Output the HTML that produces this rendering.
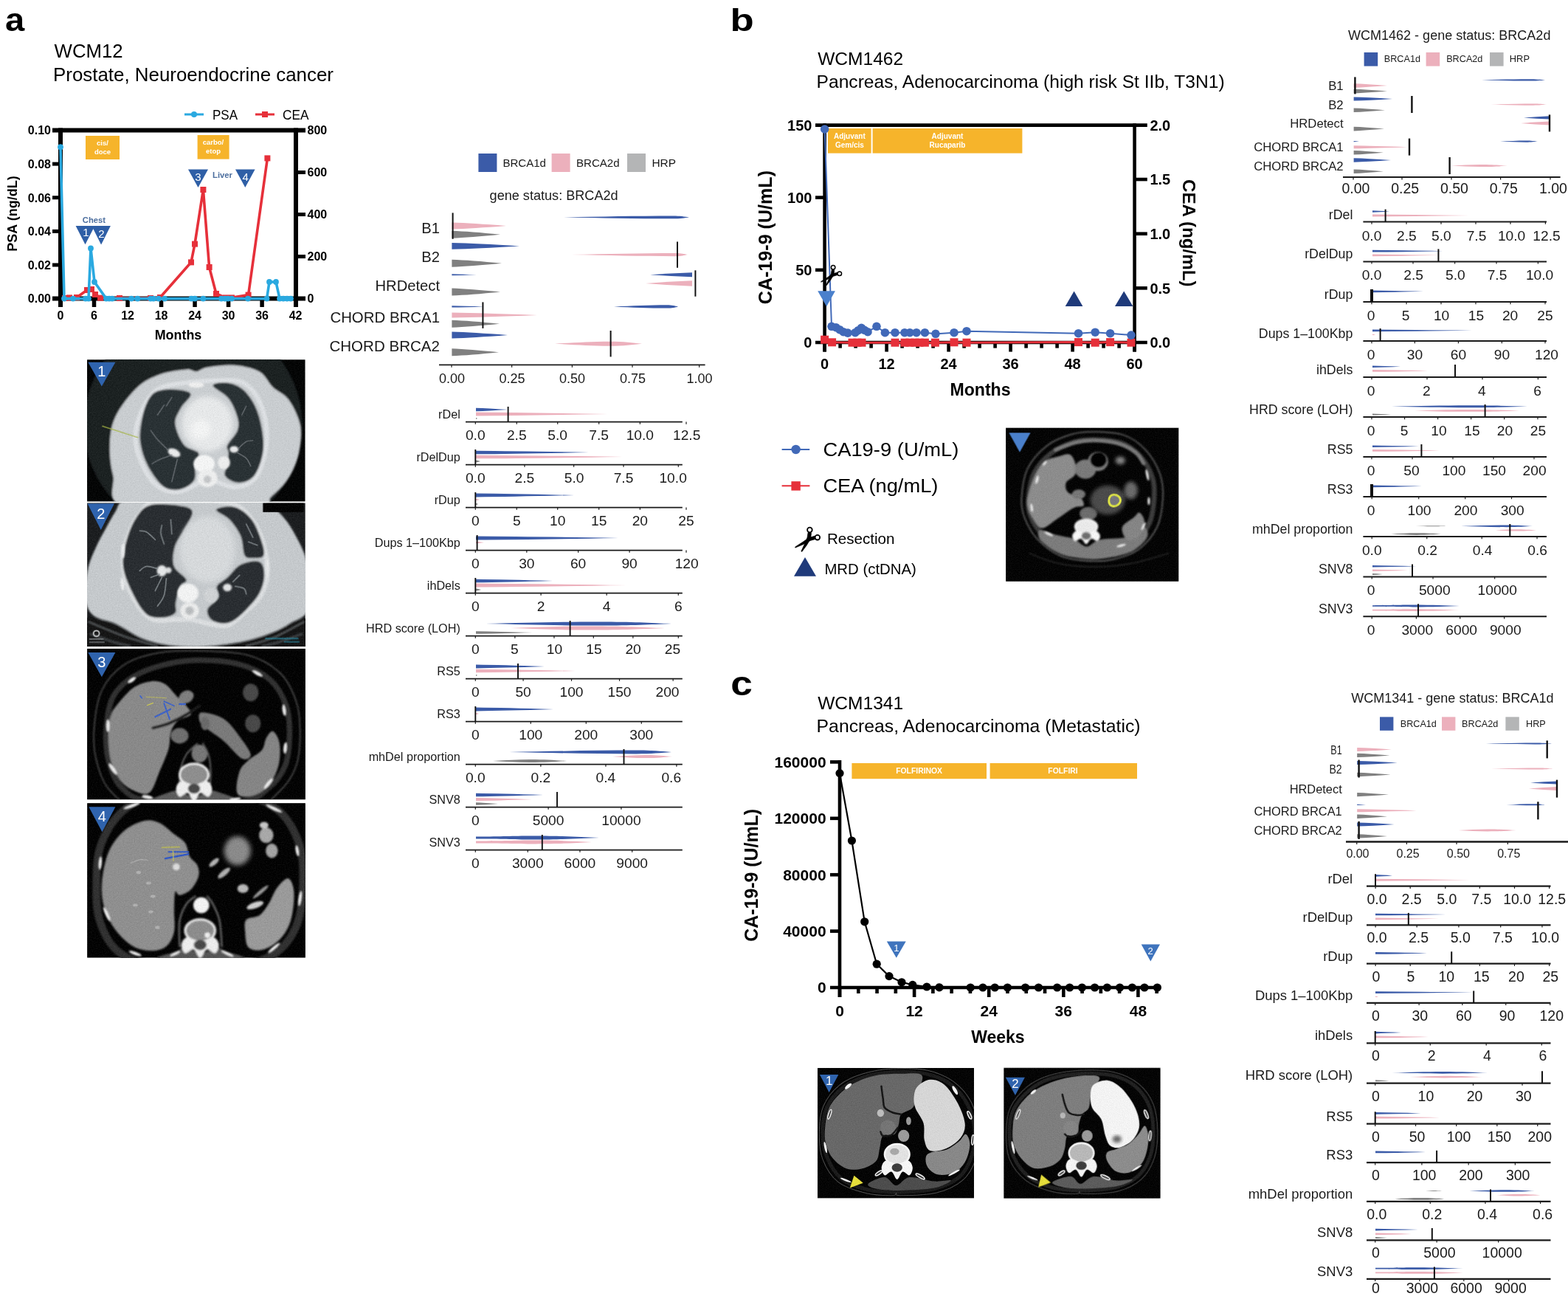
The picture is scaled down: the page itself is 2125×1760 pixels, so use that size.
<!DOCTYPE html>
<html lang="en">
<head>
<meta charset="utf-8">
<title>Figure: HRD classifier clinical cases (WCM12, WCM1462, WCM1341)</title>
<style>
html,body{margin:0;padding:0;background:#fff;}
body{width:2125px;height:1760px;overflow:hidden;}
svg{display:block;}
svg text{font-family:'Liberation Sans',Arial,Helvetica,sans-serif;}
</style>
</head>
<body>
<svg width="2125" height="1760" viewBox="0 0 2125 1760">
<defs>
<clipPath id="cc1"><rect x="67" y="62" width="1963" height="1275"/></clipPath>
<filter id="cb1" x="-10%" y="-10%" width="120%" height="120%"><feGaussianBlur stdDeviation="7"/></filter>
<filter id="cs1" x="-10%" y="-10%" width="120%" height="120%"><feGaussianBlur stdDeviation="3.1"/></filter>
<filter id="cx1" x="-20%" y="-20%" width="140%" height="140%"><feGaussianBlur stdDeviation="21"/></filter>
<filter id="cn1" filterUnits="userSpaceOnUse" x="67" y="62" width="1963" height="1275" color-interpolation-filters="sRGB"><feTurbulence type="fractalNoise" baseFrequency="0.09" numOctaves="2" seed="7" result="n"/><feColorMatrix in="n" type="matrix" values="0.33 0.33 0.33 0 0  0.33 0.33 0.33 0 0  0.33 0.33 0.33 0 0  0 0 0 0 1" result="g"/><feComposite in="SourceGraphic" in2="g" operator="arithmetic" k1="0" k2="1" k3="0.2" k4="-0.1"/></filter>
<clipPath id="cc2"><rect x="67" y="50" width="1963" height="1287"/></clipPath>
<filter id="cb2" x="-10%" y="-10%" width="120%" height="120%"><feGaussianBlur stdDeviation="7"/></filter>
<filter id="cs2" x="-10%" y="-10%" width="120%" height="120%"><feGaussianBlur stdDeviation="3.1"/></filter>
<filter id="cx2" x="-20%" y="-20%" width="140%" height="140%"><feGaussianBlur stdDeviation="21"/></filter>
<filter id="cn2" filterUnits="userSpaceOnUse" x="67" y="50" width="1963" height="1287" color-interpolation-filters="sRGB"><feTurbulence type="fractalNoise" baseFrequency="0.09" numOctaves="2" seed="14" result="n"/><feColorMatrix in="n" type="matrix" values="0.33 0.33 0.33 0 0  0.33 0.33 0.33 0 0  0.33 0.33 0.33 0 0  0 0 0 0 1" result="g"/><feComposite in="SourceGraphic" in2="g" operator="arithmetic" k1="0" k2="1" k3="0.2" k4="-0.1"/></filter>
<clipPath id="cc3"><rect x="67" y="45" width="1966" height="1360"/></clipPath>
<filter id="cb3" x="-10%" y="-10%" width="120%" height="120%"><feGaussianBlur stdDeviation="7"/></filter>
<filter id="cs3" x="-10%" y="-10%" width="120%" height="120%"><feGaussianBlur stdDeviation="3.1"/></filter>
<filter id="cx3" x="-20%" y="-20%" width="140%" height="140%"><feGaussianBlur stdDeviation="21"/></filter>
<filter id="cn3" filterUnits="userSpaceOnUse" x="67" y="45" width="1966" height="1360" color-interpolation-filters="sRGB"><feTurbulence type="fractalNoise" baseFrequency="0.09" numOctaves="2" seed="21" result="n"/><feColorMatrix in="n" type="matrix" values="0.33 0.33 0.33 0 0  0.33 0.33 0.33 0 0  0.33 0.33 0.33 0 0  0 0 0 0 1" result="g"/><feComposite in="SourceGraphic" in2="g" operator="arithmetic" k1="0" k2="1" k3="0.2" k4="-0.1"/></filter>
<clipPath id="cc4"><rect x="67" y="40" width="1966" height="1392"/></clipPath>
<filter id="cb4" x="-10%" y="-10%" width="120%" height="120%"><feGaussianBlur stdDeviation="7"/></filter>
<filter id="cs4" x="-10%" y="-10%" width="120%" height="120%"><feGaussianBlur stdDeviation="3.1"/></filter>
<filter id="cx4" x="-20%" y="-20%" width="140%" height="140%"><feGaussianBlur stdDeviation="21"/></filter>
<filter id="cn4" filterUnits="userSpaceOnUse" x="67" y="40" width="1966" height="1392" color-interpolation-filters="sRGB"><feTurbulence type="fractalNoise" baseFrequency="0.09" numOctaves="2" seed="28" result="n"/><feColorMatrix in="n" type="matrix" values="0.33 0.33 0.33 0 0  0.33 0.33 0.33 0 0  0.33 0.33 0.33 0 0  0 0 0 0 1" result="g"/><feComposite in="SourceGraphic" in2="g" operator="arithmetic" k1="0" k2="1" k3="0.2" k4="-0.1"/></filter>
<clipPath id="cc5"><rect x="78" y="75" width="1784" height="1585"/></clipPath>
<filter id="cb5" x="-10%" y="-10%" width="120%" height="120%"><feGaussianBlur stdDeviation="7"/></filter>
<filter id="cs5" x="-10%" y="-10%" width="120%" height="120%"><feGaussianBlur stdDeviation="3.1"/></filter>
<filter id="cx5" x="-20%" y="-20%" width="140%" height="140%"><feGaussianBlur stdDeviation="21"/></filter>
<filter id="cn5" filterUnits="userSpaceOnUse" x="78" y="75" width="1784" height="1585" color-interpolation-filters="sRGB"><feTurbulence type="fractalNoise" baseFrequency="0.09" numOctaves="2" seed="35" result="n"/><feColorMatrix in="n" type="matrix" values="0.33 0.33 0.33 0 0  0.33 0.33 0.33 0 0  0.33 0.33 0.33 0 0  0 0 0 0 1" result="g"/><feComposite in="SourceGraphic" in2="g" operator="arithmetic" k1="0" k2="1" k3="0.2" k4="-0.1"/></filter>
<clipPath id="cc6"><rect x="88" y="80" width="1892" height="1575"/></clipPath>
<filter id="cb6" x="-10%" y="-10%" width="120%" height="120%"><feGaussianBlur stdDeviation="7"/></filter>
<filter id="cs6" x="-10%" y="-10%" width="120%" height="120%"><feGaussianBlur stdDeviation="3.1"/></filter>
<filter id="cx6" x="-20%" y="-20%" width="140%" height="140%"><feGaussianBlur stdDeviation="21"/></filter>
<filter id="cn6" filterUnits="userSpaceOnUse" x="88" y="80" width="1892" height="1575" color-interpolation-filters="sRGB"><feTurbulence type="fractalNoise" baseFrequency="0.09" numOctaves="2" seed="42" result="n"/><feColorMatrix in="n" type="matrix" values="0.33 0.33 0.33 0 0  0.33 0.33 0.33 0 0  0.33 0.33 0.33 0 0  0 0 0 0 1" result="g"/><feComposite in="SourceGraphic" in2="g" operator="arithmetic" k1="0" k2="1" k3="0.2" k4="-0.1"/></filter>
<clipPath id="cc7"><rect x="92" y="80" width="1891" height="1575"/></clipPath>
<filter id="cb7" x="-10%" y="-10%" width="120%" height="120%"><feGaussianBlur stdDeviation="7"/></filter>
<filter id="cs7" x="-10%" y="-10%" width="120%" height="120%"><feGaussianBlur stdDeviation="3.1"/></filter>
<filter id="cx7" x="-20%" y="-20%" width="140%" height="140%"><feGaussianBlur stdDeviation="21"/></filter>
<filter id="cn7" filterUnits="userSpaceOnUse" x="92" y="80" width="1891" height="1575" color-interpolation-filters="sRGB"><feTurbulence type="fractalNoise" baseFrequency="0.09" numOctaves="2" seed="49" result="n"/><feColorMatrix in="n" type="matrix" values="0.33 0.33 0.33 0 0  0.33 0.33 0.33 0 0  0.33 0.33 0.33 0 0  0 0 0 0 1" result="g"/><feComposite in="SourceGraphic" in2="g" operator="arithmetic" k1="0" k2="1" k3="0.2" k4="-0.1"/></filter>
</defs>
<rect x="0" y="0" width="2125" height="1760" fill="#ffffff"/>
<text x="7.00" y="41.60" font-size="45" font-weight="bold" textLength="26.20" lengthAdjust="spacingAndGlyphs">a</text>
<text x="73.60" y="78.40" font-size="25" textLength="93.00" lengthAdjust="spacingAndGlyphs">WCM12</text>
<text x="72.00" y="109.60" font-size="25.6" textLength="380.00" lengthAdjust="spacingAndGlyphs">Prostate, Neuroendocrine cancer</text>
<line x1="250.00" y1="155.00" x2="276.00" y2="155.00" stroke="#2aa9e0" stroke-width="3" />
<circle cx="263.00" cy="155.00" r="4" fill="#2aa9e0" />
<text x="288.00" y="161.60" font-size="17.5" textLength="34.00" lengthAdjust="spacingAndGlyphs">PSA</text>
<line x1="346.00" y1="155.00" x2="372.00" y2="155.00" stroke="#e6303a" stroke-width="3" />
<rect x="355.00" y="151.00" width="8.00" height="8.00" fill="#e6303a" />
<text x="383.00" y="161.60" font-size="17.5" textLength="35.50" lengthAdjust="spacingAndGlyphs">CEA</text>
<rect x="116.00" y="184.00" width="46.00" height="32.00" fill="#f6b42b" />
<text x="139.00" y="196.50" font-size="9.5" text-anchor="middle" font-weight="bold" fill="#fff">cis/</text>
<text x="139.00" y="208.50" font-size="9.5" text-anchor="middle" font-weight="bold" fill="#fff">doce</text>
<rect x="267.60" y="183.00" width="43.00" height="32.60" fill="#f6b42b" />
<text x="289.00" y="195.80" font-size="9.5" text-anchor="middle" font-weight="bold" fill="#fff">carbo/</text>
<text x="289.00" y="207.60" font-size="9.5" text-anchor="middle" font-weight="bold" fill="#fff">etop</text>
<line x1="82.00" y1="173.50" x2="82.00" y2="416.00" stroke="#000" stroke-width="6" />
<line x1="71.00" y1="176.50" x2="414.00" y2="176.50" stroke="#000" stroke-width="6" />
<line x1="401.00" y1="173.50" x2="401.00" y2="416.00" stroke="#000" stroke-width="6" />
<line x1="71.00" y1="404.60" x2="414.00" y2="404.60" stroke="#000" stroke-width="6" />
<line x1="71.00" y1="358.98" x2="82.00" y2="358.98" stroke="#000" stroke-width="5" />
<line x1="71.00" y1="313.36" x2="82.00" y2="313.36" stroke="#000" stroke-width="5" />
<line x1="71.00" y1="267.74" x2="82.00" y2="267.74" stroke="#000" stroke-width="5" />
<line x1="71.00" y1="222.12" x2="82.00" y2="222.12" stroke="#000" stroke-width="5" />
<line x1="401.00" y1="347.58" x2="414.00" y2="347.58" stroke="#000" stroke-width="5" />
<line x1="401.00" y1="290.55" x2="414.00" y2="290.55" stroke="#000" stroke-width="5" />
<line x1="401.00" y1="233.53" x2="414.00" y2="233.53" stroke="#000" stroke-width="5" />
<line x1="127.51" y1="404.60" x2="127.51" y2="416.00" stroke="#000" stroke-width="5.5" />
<line x1="173.03" y1="404.60" x2="173.03" y2="416.00" stroke="#000" stroke-width="5.5" />
<line x1="218.54" y1="404.60" x2="218.54" y2="416.00" stroke="#000" stroke-width="5.5" />
<line x1="264.06" y1="404.60" x2="264.06" y2="416.00" stroke="#000" stroke-width="5.5" />
<line x1="309.57" y1="404.60" x2="309.57" y2="416.00" stroke="#000" stroke-width="5.5" />
<line x1="355.09" y1="404.60" x2="355.09" y2="416.00" stroke="#000" stroke-width="5.5" />
<text x="69.00" y="410.40" font-size="16" text-anchor="end" font-weight="bold">0.00</text>
<text x="69.00" y="364.78" font-size="16" text-anchor="end" font-weight="bold">0.02</text>
<text x="69.00" y="319.16" font-size="16" text-anchor="end" font-weight="bold">0.04</text>
<text x="69.00" y="273.54" font-size="16" text-anchor="end" font-weight="bold">0.06</text>
<text x="69.00" y="227.92" font-size="16" text-anchor="end" font-weight="bold">0.08</text>
<text x="69.00" y="182.30" font-size="16" text-anchor="end" font-weight="bold">0.10</text>
<text x="416.50" y="410.40" font-size="16" font-weight="bold">0</text>
<text x="416.50" y="353.38" font-size="16" font-weight="bold">200</text>
<text x="416.50" y="296.35" font-size="16" font-weight="bold">400</text>
<text x="416.50" y="239.33" font-size="16" font-weight="bold">600</text>
<text x="416.50" y="182.30" font-size="16" font-weight="bold">800</text>
<text x="82.00" y="433.20" font-size="16" text-anchor="middle" font-weight="bold">0</text>
<text x="127.51" y="433.20" font-size="16" text-anchor="middle" font-weight="bold">6</text>
<text x="173.03" y="433.20" font-size="16" text-anchor="middle" font-weight="bold">12</text>
<text x="218.54" y="433.20" font-size="16" text-anchor="middle" font-weight="bold">18</text>
<text x="264.06" y="433.20" font-size="16" text-anchor="middle" font-weight="bold">24</text>
<text x="309.57" y="433.20" font-size="16" text-anchor="middle" font-weight="bold">30</text>
<text x="355.09" y="433.20" font-size="16" text-anchor="middle" font-weight="bold">36</text>
<text x="400.60" y="433.20" font-size="16" text-anchor="middle" font-weight="bold">42</text>
<text x="241.50" y="460.40" font-size="17.9" text-anchor="middle" font-weight="bold">Months</text>
<text x="23.40" y="289.50" font-size="18" text-anchor="middle" font-weight="bold" transform="rotate(-90 23.40 289.50)">PSA (ng/dL)</text>
<path d="M102.6,306.0 L128.5,306.0 L115.5,331.3 Z" fill="#2f5fa6"/>
<path d="M124.3,306.0 L149.9,306.0 L137.1,331.5 Z" fill="#2f5fa6"/>
<path d="M255.0,229.4 L282.0,229.4 L268.5,254.0 Z" fill="#2f5fa6"/>
<path d="M319.0,229.4 L345.6,229.4 L332.3,254.0 Z" fill="#2f5fa6"/>
<text x="116.30" y="319.90" font-size="15" text-anchor="middle" fill="#fff">1</text>
<text x="137.30" y="322.10" font-size="15" text-anchor="middle" fill="#fff">2</text>
<text x="268.40" y="245.00" font-size="15" text-anchor="middle" fill="#fff">3</text>
<text x="332.60" y="245.00" font-size="15" text-anchor="middle" fill="#fff">4</text>
<text x="111.80" y="302.10" font-size="11.6" font-weight="bold" fill="#4d6f9f" textLength="31.20" lengthAdjust="spacingAndGlyphs">Chest</text>
<text x="288.00" y="241.00" font-size="11.2" font-weight="bold" fill="#4d6f9f" textLength="27.00" lengthAdjust="spacingAndGlyphs">Liver</text>
<polyline points="88.0,404.0 94.0,403.4 104.0,403.0 118.0,393.0 124.0,392.0 129.0,399.0 136.0,403.6 162.0,404.0 204.0,404.0 217.0,403.0 259.0,355.4 264.0,330.6 275.4,257.0 283.6,362.0 293.0,398.0 306.0,403.4 314.0,403.4 336.6,399.6 362.4,214.4" fill="none" stroke="#e6303a" stroke-width="3.6" stroke-linejoin="round" />
<rect x="84.00" y="400.00" width="8.00" height="8.00" fill="#e6303a" />
<rect x="90.00" y="399.40" width="8.00" height="8.00" fill="#e6303a" />
<rect x="100.00" y="399.00" width="8.00" height="8.00" fill="#e6303a" />
<rect x="114.00" y="389.00" width="8.00" height="8.00" fill="#e6303a" />
<rect x="120.00" y="388.00" width="8.00" height="8.00" fill="#e6303a" />
<rect x="125.00" y="395.00" width="8.00" height="8.00" fill="#e6303a" />
<rect x="132.00" y="399.60" width="8.00" height="8.00" fill="#e6303a" />
<rect x="158.00" y="400.00" width="8.00" height="8.00" fill="#e6303a" />
<rect x="200.00" y="400.00" width="8.00" height="8.00" fill="#e6303a" />
<rect x="213.00" y="399.00" width="8.00" height="8.00" fill="#e6303a" />
<rect x="255.00" y="351.40" width="8.00" height="8.00" fill="#e6303a" />
<rect x="260.00" y="326.60" width="8.00" height="8.00" fill="#e6303a" />
<rect x="271.40" y="253.00" width="8.00" height="8.00" fill="#e6303a" />
<rect x="279.60" y="358.00" width="8.00" height="8.00" fill="#e6303a" />
<rect x="289.00" y="394.00" width="8.00" height="8.00" fill="#e6303a" />
<rect x="302.00" y="399.40" width="8.00" height="8.00" fill="#e6303a" />
<rect x="310.00" y="399.40" width="8.00" height="8.00" fill="#e6303a" />
<rect x="332.60" y="395.60" width="8.00" height="8.00" fill="#e6303a" />
<rect x="358.40" y="210.40" width="8.00" height="8.00" fill="#e6303a" />
<polyline points="82.0,199.2 87.0,404.6 99.0,404.6 116.0,404.6 120.0,404.6 123.0,336.4 128.0,382.0 144.0,404.6 148.0,404.6 152.0,404.6 178.0,404.6 186.4,404.6 204.0,404.6 208.0,404.6 215.0,404.6 223.0,404.6 259.4,404.6 264.0,404.6 275.4,404.6 300.0,404.6 305.0,404.6 309.0,404.6 314.0,404.6 336.0,404.6 361.6,404.6 365.0,382.0 374.0,382.0 379.0,404.6 384.0,404.6 389.0,404.6 394.0,404.6" fill="none" stroke="#2aa9e0" stroke-width="3.6" stroke-linejoin="round" />
<circle cx="82.00" cy="199.20" r="3.9" fill="#2aa9e0" />
<circle cx="87.00" cy="404.60" r="3.9" fill="#2aa9e0" />
<circle cx="99.00" cy="404.60" r="3.9" fill="#2aa9e0" />
<circle cx="116.00" cy="404.60" r="3.9" fill="#2aa9e0" />
<circle cx="120.00" cy="404.60" r="3.9" fill="#2aa9e0" />
<circle cx="123.00" cy="336.40" r="3.9" fill="#2aa9e0" />
<circle cx="128.00" cy="382.00" r="3.9" fill="#2aa9e0" />
<circle cx="144.00" cy="404.60" r="3.9" fill="#2aa9e0" />
<circle cx="148.00" cy="404.60" r="3.9" fill="#2aa9e0" />
<circle cx="152.00" cy="404.60" r="3.9" fill="#2aa9e0" />
<circle cx="178.00" cy="404.60" r="3.9" fill="#2aa9e0" />
<circle cx="186.40" cy="404.60" r="3.9" fill="#2aa9e0" />
<circle cx="204.00" cy="404.60" r="3.9" fill="#2aa9e0" />
<circle cx="208.00" cy="404.60" r="3.9" fill="#2aa9e0" />
<circle cx="215.00" cy="404.60" r="3.9" fill="#2aa9e0" />
<circle cx="223.00" cy="404.60" r="3.9" fill="#2aa9e0" />
<circle cx="259.40" cy="404.60" r="3.9" fill="#2aa9e0" />
<circle cx="264.00" cy="404.60" r="3.9" fill="#2aa9e0" />
<circle cx="275.40" cy="404.60" r="3.9" fill="#2aa9e0" />
<circle cx="300.00" cy="404.60" r="3.9" fill="#2aa9e0" />
<circle cx="305.00" cy="404.60" r="3.9" fill="#2aa9e0" />
<circle cx="309.00" cy="404.60" r="3.9" fill="#2aa9e0" />
<circle cx="314.00" cy="404.60" r="3.9" fill="#2aa9e0" />
<circle cx="336.00" cy="404.60" r="3.9" fill="#2aa9e0" />
<circle cx="361.60" cy="404.60" r="3.9" fill="#2aa9e0" />
<circle cx="365.00" cy="382.00" r="3.9" fill="#2aa9e0" />
<circle cx="374.00" cy="382.00" r="3.9" fill="#2aa9e0" />
<circle cx="379.00" cy="404.60" r="3.9" fill="#2aa9e0" />
<circle cx="384.00" cy="404.60" r="3.9" fill="#2aa9e0" />
<circle cx="389.00" cy="404.60" r="3.9" fill="#2aa9e0" />
<circle cx="394.00" cy="404.60" r="3.9" fill="#2aa9e0" />
<rect x="648.40" y="208.00" width="25.00" height="25.00" fill="#3b5ba8" />
<text x="681.40" y="226.00" font-size="14.5" fill="#1a1a1a" textLength="58.60" lengthAdjust="spacingAndGlyphs">BRCA1d</text>
<rect x="747.60" y="208.00" width="25.00" height="25.00" fill="#ecb0bc" />
<text x="781.00" y="226.00" font-size="14.5" fill="#1a1a1a" textLength="58.60" lengthAdjust="spacingAndGlyphs">BRCA2d</text>
<rect x="850.00" y="208.00" width="25.00" height="25.00" fill="#b4b5b6" />
<text x="883.40" y="226.00" font-size="14.5" fill="#1a1a1a" textLength="32.60" lengthAdjust="spacingAndGlyphs">HRP</text>
<text x="663.60" y="270.60" font-size="18" fill="#1a1a1a" textLength="174.00" lengthAdjust="spacingAndGlyphs">gene status: BRCA2d</text>
<path d="M764.0,294.40 C815.8,293.59 860.2,292.60 912.0,292.60 C921.9,292.60 927.4,293.59 934.0,294.40 C927.4,295.21 921.9,296.20 912.0,296.20 C860.2,296.20 815.8,295.21 764.0,294.40 Z" fill="#3b5ba8"/>
<path d="M612.4,301.55 Q640.4,302.36 686.0,306.05 Q640.4,309.74 612.4,310.55 Z" fill="#ecb0bc"/>
<path d="M612.4,312.70 Q637.3,313.60 678.0,317.70 Q637.3,321.80 612.4,322.70 Z" fill="#808080"/>
<text x="596.00" y="316.20" font-size="20.2" text-anchor="end" fill="#1a1a1a">B1</text>
<path d="M612.4,329.10 Q647.2,329.87 704.0,333.40 Q647.2,336.93 612.4,337.70 Z" fill="#3b5ba8"/>
<path d="M774.0,345.05 C823.7,344.10 866.3,342.95 916.0,342.95 C923.2,342.95 927.2,344.10 932.0,345.05 C927.2,345.99 923.2,347.15 916.0,347.15 C866.3,347.15 823.7,345.99 774.0,345.05 Z" fill="#ecb0bc"/>
<path d="M612.4,351.70 Q638.1,352.60 680.0,356.70 Q638.1,360.80 612.4,361.70 Z" fill="#808080"/>
<text x="596.00" y="355.20" font-size="20.2" text-anchor="end" fill="#1a1a1a">B2</text>
<path d="M612.4,371.30 Q625.2,371.48 646.0,372.30 Q625.2,373.12 612.4,373.30 Z" fill="#3b5ba8"/>
<path d="M938.0,369.30 Q909.5,370.20 881.0,372.30 Q909.5,374.40 938.0,375.30 Z" fill="#3b5ba8"/>
<path d="M938.0,380.25 Q906.5,381.36 875.0,383.95 Q906.5,386.54 938.0,387.65 Z" fill="#ecb0bc"/>
<path d="M612.4,390.60 Q637.3,391.50 678.0,395.60 Q637.3,399.70 612.4,400.60 Z" fill="#808080"/>
<text x="596.00" y="394.10" font-size="20.2" text-anchor="end" fill="#1a1a1a">HRDetect</text>
<path d="M612.4,414.20 Q629.0,414.42 656.0,415.40 Q629.0,416.38 612.4,416.60 Z" fill="#3b5ba8"/>
<path d="M832.0,415.40 C857.2,414.41 878.8,413.20 904.0,413.20 C910.8,413.20 914.5,414.41 919.0,415.40 C914.5,416.39 910.8,417.60 904.0,417.60 C878.8,417.60 857.2,416.39 832.0,415.40 Z" fill="#3b5ba8"/>
<path d="M612.4,423.55 Q656.3,424.18 728.0,427.05 Q656.3,429.92 612.4,430.55 Z" fill="#ecb0bc"/>
<path d="M612.4,433.70 Q636.9,434.60 677.0,438.70 Q636.9,442.80 612.4,443.70 Z" fill="#808080"/>
<text x="596.00" y="437.20" font-size="20.2" text-anchor="end" fill="#1a1a1a" textLength="148.60" lengthAdjust="spacingAndGlyphs">CHORD BRCA1</text>
<path d="M612.4,449.50 Q641.1,450.31 688.0,454.00 Q641.1,457.69 612.4,458.50 Z" fill="#3b5ba8"/>
<path d="M752.0,465.65 C777.9,464.30 800.1,462.65 826.0,462.65 C845.8,462.65 856.8,464.30 870.0,465.65 C856.8,467.00 845.8,468.65 826.0,468.65 C800.1,468.65 777.9,467.00 752.0,465.65 Z" fill="#ecb0bc"/>
<path d="M612.4,472.30 Q636.6,473.20 676.0,477.30 Q636.6,481.40 612.4,482.30 Z" fill="#808080"/>
<text x="596.00" y="475.80" font-size="20.2" text-anchor="end" fill="#1a1a1a" textLength="149.60" lengthAdjust="spacingAndGlyphs">CHORD BRCA2</text>
<line x1="595.00" y1="494.40" x2="955.60" y2="494.40" stroke="#1a1a1a" stroke-width="1.8" />
<line x1="612.00" y1="494.40" x2="612.00" y2="497.80" stroke="#1a1a1a" stroke-width="1.2" />
<text x="612.40" y="518.90" font-size="18" text-anchor="middle" fill="#1a1a1a">0.00</text>
<line x1="693.60" y1="494.40" x2="693.60" y2="497.80" stroke="#1a1a1a" stroke-width="1.2" />
<text x="694.00" y="518.90" font-size="18" text-anchor="middle" fill="#1a1a1a">0.25</text>
<line x1="775.40" y1="494.40" x2="775.40" y2="497.80" stroke="#1a1a1a" stroke-width="1.2" />
<text x="775.60" y="518.90" font-size="18" text-anchor="middle" fill="#1a1a1a">0.50</text>
<line x1="857.00" y1="494.40" x2="857.00" y2="497.80" stroke="#1a1a1a" stroke-width="1.2" />
<text x="857.60" y="518.90" font-size="18" text-anchor="middle" fill="#1a1a1a">0.75</text>
<line x1="947.60" y1="494.40" x2="947.60" y2="497.80" stroke="#1a1a1a" stroke-width="1.2" />
<text x="948.00" y="518.90" font-size="18" text-anchor="middle" fill="#1a1a1a">1.00</text>
<line x1="613.60" y1="288.40" x2="613.60" y2="323.80" stroke="#111" stroke-width="2" />
<line x1="918.00" y1="327.40" x2="918.00" y2="362.80" stroke="#111" stroke-width="2" />
<line x1="942.40" y1="366.30" x2="942.40" y2="401.70" stroke="#111" stroke-width="2" />
<line x1="654.40" y1="409.40" x2="654.40" y2="444.80" stroke="#111" stroke-width="2" />
<line x1="827.60" y1="448.00" x2="827.60" y2="483.40" stroke="#111" stroke-width="2" />
<path d="M645.0,552.70 Q661.3,553.11 688.0,555.00 Q661.3,556.89 645.0,557.30 Z" fill="#3b5ba8"/>
<path d="M645.0,558.52 Q713.0,558.96 824.0,561.00 Q713.0,563.04 645.0,563.48 Z" fill="#ecb0bc"/>
<path d="M645.0,566.08 Q645.8,566.25 647.0,567.00 Q645.8,567.75 645.0,567.92 Z" fill="#808080"/>
<line x1="631.00" y1="571.60" x2="924.80" y2="571.60" stroke="#1a1a1a" stroke-width="1.8" />
<line x1="644.29" y1="571.60" x2="644.29" y2="574.80" stroke="#1a1a1a" stroke-width="1.2" />
<text x="644.29" y="596.20" font-size="19.2" text-anchor="middle" fill="#1a1a1a">0.0</text>
<line x1="700.24" y1="571.60" x2="700.24" y2="574.80" stroke="#1a1a1a" stroke-width="1.2" />
<text x="700.24" y="596.20" font-size="19.2" text-anchor="middle" fill="#1a1a1a">2.5</text>
<line x1="755.71" y1="571.60" x2="755.71" y2="574.80" stroke="#1a1a1a" stroke-width="1.2" />
<text x="755.71" y="596.20" font-size="19.2" text-anchor="middle" fill="#1a1a1a">5.0</text>
<line x1="811.67" y1="571.60" x2="811.67" y2="574.80" stroke="#1a1a1a" stroke-width="1.2" />
<text x="811.67" y="596.20" font-size="19.2" text-anchor="middle" fill="#1a1a1a">7.5</text>
<line x1="867.38" y1="571.60" x2="867.38" y2="574.80" stroke="#1a1a1a" stroke-width="1.2" />
<text x="867.38" y="596.20" font-size="19.2" text-anchor="middle" fill="#1a1a1a">10.0</text>
<line x1="930.00" y1="571.60" x2="930.00" y2="574.80" stroke="#1a1a1a" stroke-width="1.2" />
<text x="930.71" y="596.20" font-size="19.2" text-anchor="middle" fill="#1a1a1a">12.5</text>
<text x="623.80" y="566.60" font-size="16.2" text-anchor="end" fill="#1a1a1a">rDel</text>
<line x1="688.60" y1="551.00" x2="688.60" y2="571.60" stroke="#111" stroke-width="1.9" />
<path d="M645.0,610.70 Q703.1,611.11 798.0,613.00 Q703.1,614.89 645.0,615.30 Z" fill="#3b5ba8"/>
<path d="M645.0,616.70 Q720.6,617.11 844.0,619.00 Q720.6,620.89 645.0,621.30 Z" fill="#ecb0bc"/>
<path d="M645.0,623.62 Q647.3,623.87 651.0,625.00 Q647.3,626.13 645.0,626.38 Z" fill="#808080"/>
<line x1="631.00" y1="629.60" x2="924.80" y2="629.60" stroke="#1a1a1a" stroke-width="1.8" />
<line x1="644.29" y1="629.60" x2="644.29" y2="632.80" stroke="#1a1a1a" stroke-width="1.2" />
<text x="644.29" y="654.20" font-size="19.2" text-anchor="middle" fill="#1a1a1a">0.0</text>
<line x1="710.95" y1="629.60" x2="710.95" y2="632.80" stroke="#1a1a1a" stroke-width="1.2" />
<text x="710.95" y="654.20" font-size="19.2" text-anchor="middle" fill="#1a1a1a">2.5</text>
<line x1="777.62" y1="629.60" x2="777.62" y2="632.80" stroke="#1a1a1a" stroke-width="1.2" />
<text x="778.10" y="654.20" font-size="19.2" text-anchor="middle" fill="#1a1a1a">5.0</text>
<line x1="845.00" y1="629.60" x2="845.00" y2="632.80" stroke="#1a1a1a" stroke-width="1.2" />
<text x="845.00" y="654.20" font-size="19.2" text-anchor="middle" fill="#1a1a1a">7.5</text>
<line x1="919.29" y1="629.60" x2="919.29" y2="632.80" stroke="#1a1a1a" stroke-width="1.2" />
<text x="912.14" y="654.20" font-size="19.2" text-anchor="middle" fill="#1a1a1a">10.0</text>
<text x="623.80" y="624.60" font-size="16.2" text-anchor="end" fill="#1a1a1a">rDelDup</text>
<line x1="644.30" y1="609.00" x2="644.30" y2="629.60" stroke="#111" stroke-width="1.9" />
<path d="M645.0,668.52 Q695.5,668.96 778.0,671.00 Q695.5,673.04 645.0,673.48 Z" fill="#3b5ba8"/>
<path d="M645.0,675.90 Q646.9,676.09 650.0,677.00 Q646.9,677.91 645.0,678.10 Z" fill="#ecb0bc"/>
<path d="M645.0,681.90 Q646.1,682.09 648.0,683.00 Q646.1,683.91 645.0,684.10 Z" fill="#808080"/>
<line x1="631.00" y1="687.60" x2="924.80" y2="687.60" stroke="#1a1a1a" stroke-width="1.8" />
<line x1="644.29" y1="687.60" x2="644.29" y2="690.80" stroke="#1a1a1a" stroke-width="1.2" />
<text x="644.29" y="712.20" font-size="19.2" text-anchor="middle" fill="#1a1a1a">0</text>
<line x1="700.24" y1="687.60" x2="700.24" y2="690.80" stroke="#1a1a1a" stroke-width="1.2" />
<text x="700.24" y="712.20" font-size="19.2" text-anchor="middle" fill="#1a1a1a">5</text>
<line x1="755.71" y1="687.60" x2="755.71" y2="690.80" stroke="#1a1a1a" stroke-width="1.2" />
<text x="755.71" y="712.20" font-size="19.2" text-anchor="middle" fill="#1a1a1a">10</text>
<line x1="811.67" y1="687.60" x2="811.67" y2="690.80" stroke="#1a1a1a" stroke-width="1.2" />
<text x="811.67" y="712.20" font-size="19.2" text-anchor="middle" fill="#1a1a1a">15</text>
<line x1="867.38" y1="687.60" x2="867.38" y2="690.80" stroke="#1a1a1a" stroke-width="1.2" />
<text x="867.38" y="712.20" font-size="19.2" text-anchor="middle" fill="#1a1a1a">20</text>
<line x1="930.00" y1="687.60" x2="930.00" y2="690.80" stroke="#1a1a1a" stroke-width="1.2" />
<text x="930.00" y="712.20" font-size="19.2" text-anchor="middle" fill="#1a1a1a">25</text>
<text x="623.80" y="682.60" font-size="16.2" text-anchor="end" fill="#1a1a1a">rDup</text>
<line x1="644.30" y1="667.00" x2="644.30" y2="687.60" stroke="#111" stroke-width="1.9" />
<path d="M645.0,726.52 Q718.3,726.96 838.0,729.00 Q718.3,731.04 645.0,731.48 Z" fill="#3b5ba8"/>
<path d="M645.0,733.80 Q649.2,734.02 656.0,735.00 Q649.2,735.98 645.0,736.20 Z" fill="#ecb0bc"/>
<line x1="631.00" y1="745.60" x2="924.80" y2="745.60" stroke="#1a1a1a" stroke-width="1.8" />
<line x1="644.29" y1="745.60" x2="644.29" y2="748.80" stroke="#1a1a1a" stroke-width="1.2" />
<text x="644.29" y="770.20" font-size="19.2" text-anchor="middle" fill="#1a1a1a">0</text>
<line x1="713.81" y1="745.60" x2="713.81" y2="748.80" stroke="#1a1a1a" stroke-width="1.2" />
<text x="713.81" y="770.20" font-size="19.2" text-anchor="middle" fill="#1a1a1a">30</text>
<line x1="783.57" y1="745.60" x2="783.57" y2="748.80" stroke="#1a1a1a" stroke-width="1.2" />
<text x="783.57" y="770.20" font-size="19.2" text-anchor="middle" fill="#1a1a1a">60</text>
<line x1="853.10" y1="745.60" x2="853.10" y2="748.80" stroke="#1a1a1a" stroke-width="1.2" />
<text x="853.10" y="770.20" font-size="19.2" text-anchor="middle" fill="#1a1a1a">90</text>
<line x1="930.00" y1="745.60" x2="930.00" y2="748.80" stroke="#1a1a1a" stroke-width="1.2" />
<text x="930.71" y="770.20" font-size="19.2" text-anchor="middle" fill="#1a1a1a">120</text>
<text x="623.80" y="740.60" font-size="16.2" text-anchor="end" fill="#1a1a1a">Dups 1–100Kbp</text>
<line x1="646.60" y1="725.00" x2="646.60" y2="745.60" stroke="#111" stroke-width="1.9" />
<path d="M645.0,784.70 Q684.5,785.11 749.0,787.00 Q684.5,788.89 645.0,789.30 Z" fill="#3b5ba8"/>
<path d="M645.0,790.52 Q722.9,790.96 850.0,793.00 Q722.9,795.04 645.0,795.48 Z" fill="#ecb0bc"/>
<path d="M645.0,797.44 Q647.7,797.72 652.0,799.00 Q647.7,800.28 645.0,800.56 Z" fill="#808080"/>
<line x1="631.00" y1="803.60" x2="924.80" y2="803.60" stroke="#1a1a1a" stroke-width="1.8" />
<line x1="644.29" y1="803.60" x2="644.29" y2="806.80" stroke="#1a1a1a" stroke-width="1.2" />
<text x="644.29" y="828.20" font-size="19.2" text-anchor="middle" fill="#1a1a1a">0</text>
<line x1="733.10" y1="803.60" x2="733.10" y2="806.80" stroke="#1a1a1a" stroke-width="1.2" />
<text x="733.10" y="828.20" font-size="19.2" text-anchor="middle" fill="#1a1a1a">2</text>
<line x1="822.14" y1="803.60" x2="822.14" y2="806.80" stroke="#1a1a1a" stroke-width="1.2" />
<text x="822.14" y="828.20" font-size="19.2" text-anchor="middle" fill="#1a1a1a">4</text>
<line x1="919.29" y1="803.60" x2="919.29" y2="806.80" stroke="#1a1a1a" stroke-width="1.2" />
<text x="919.29" y="828.20" font-size="19.2" text-anchor="middle" fill="#1a1a1a">6</text>
<text x="623.80" y="798.60" font-size="16.2" text-anchor="end" fill="#1a1a1a">ihDels</text>
<line x1="644.30" y1="783.00" x2="644.30" y2="803.60" stroke="#111" stroke-width="1.9" />
<path d="M658.0,845.00 C712.2,843.84 758.8,842.42 813.0,842.42 C856.6,842.42 880.9,843.84 910.0,845.00 C880.9,846.16 856.6,847.58 813.0,847.58 C758.8,847.58 712.2,846.16 658.0,845.00 Z" fill="#3b5ba8"/>
<path d="M692.0,851.00 C729.8,849.84 762.2,848.42 800.0,848.42 C845.5,848.42 870.7,849.84 901.0,851.00 C870.7,852.16 845.5,853.58 800.0,853.58 C762.2,853.58 729.8,852.16 692.0,851.00 Z" fill="#ecb0bc"/>
<path d="M645.0,855.16 Q674.3,855.49 722.0,857.00 Q674.3,858.51 645.0,858.84 Z" fill="#808080"/>
<line x1="631.00" y1="861.60" x2="924.80" y2="861.60" stroke="#1a1a1a" stroke-width="1.8" />
<line x1="644.29" y1="861.60" x2="644.29" y2="864.80" stroke="#1a1a1a" stroke-width="1.2" />
<text x="644.29" y="886.20" font-size="19.2" text-anchor="middle" fill="#1a1a1a">0</text>
<line x1="697.86" y1="861.60" x2="697.86" y2="864.80" stroke="#1a1a1a" stroke-width="1.2" />
<text x="697.38" y="886.20" font-size="19.2" text-anchor="middle" fill="#1a1a1a">5</text>
<line x1="750.95" y1="861.60" x2="750.95" y2="864.80" stroke="#1a1a1a" stroke-width="1.2" />
<text x="751.43" y="886.20" font-size="19.2" text-anchor="middle" fill="#1a1a1a">10</text>
<line x1="804.29" y1="861.60" x2="804.29" y2="864.80" stroke="#1a1a1a" stroke-width="1.2" />
<text x="805.00" y="886.20" font-size="19.2" text-anchor="middle" fill="#1a1a1a">15</text>
<line x1="857.86" y1="861.60" x2="857.86" y2="864.80" stroke="#1a1a1a" stroke-width="1.2" />
<text x="858.10" y="886.20" font-size="19.2" text-anchor="middle" fill="#1a1a1a">20</text>
<line x1="919.29" y1="861.60" x2="919.29" y2="864.80" stroke="#1a1a1a" stroke-width="1.2" />
<text x="911.43" y="886.20" font-size="19.2" text-anchor="middle" fill="#1a1a1a">25</text>
<text x="623.80" y="856.60" font-size="16.2" text-anchor="end" fill="#1a1a1a">HRD score (LOH)</text>
<line x1="772.60" y1="841.00" x2="772.60" y2="861.60" stroke="#111" stroke-width="1.9" />
<path d="M645.0,900.61 Q680.3,901.04 738.0,903.00 Q680.3,904.96 645.0,905.39 Z" fill="#3b5ba8"/>
<path d="M645.0,906.70 Q696.3,907.11 780.0,909.00 Q696.3,910.89 645.0,911.30 Z" fill="#ecb0bc"/>
<path d="M645.0,914.08 Q645.8,914.25 647.0,915.00 Q645.8,915.75 645.0,915.92 Z" fill="#808080"/>
<line x1="631.00" y1="919.60" x2="924.80" y2="919.60" stroke="#1a1a1a" stroke-width="1.8" />
<line x1="644.29" y1="919.60" x2="644.29" y2="922.80" stroke="#1a1a1a" stroke-width="1.2" />
<text x="644.29" y="944.20" font-size="19.2" text-anchor="middle" fill="#1a1a1a">0</text>
<line x1="709.05" y1="919.60" x2="709.05" y2="922.80" stroke="#1a1a1a" stroke-width="1.2" />
<text x="709.05" y="944.20" font-size="19.2" text-anchor="middle" fill="#1a1a1a">50</text>
<line x1="774.52" y1="919.60" x2="774.52" y2="922.80" stroke="#1a1a1a" stroke-width="1.2" />
<text x="774.52" y="944.20" font-size="19.2" text-anchor="middle" fill="#1a1a1a">100</text>
<line x1="839.52" y1="919.60" x2="839.52" y2="922.80" stroke="#1a1a1a" stroke-width="1.2" />
<text x="839.52" y="944.20" font-size="19.2" text-anchor="middle" fill="#1a1a1a">150</text>
<line x1="912.14" y1="919.60" x2="912.14" y2="922.80" stroke="#1a1a1a" stroke-width="1.2" />
<text x="904.52" y="944.20" font-size="19.2" text-anchor="middle" fill="#1a1a1a">200</text>
<text x="623.80" y="914.60" font-size="16.2" text-anchor="end" fill="#1a1a1a">RS5</text>
<line x1="702.00" y1="899.00" x2="702.00" y2="919.60" stroke="#111" stroke-width="1.9" />
<path d="M645.0,958.61 Q684.9,959.04 750.0,961.00 Q684.9,962.96 645.0,963.39 Z" fill="#3b5ba8"/>
<path d="M645.0,965.90 Q646.5,966.09 649.0,967.00 Q646.5,967.91 645.0,968.10 Z" fill="#ecb0bc"/>
<line x1="631.00" y1="977.60" x2="924.80" y2="977.60" stroke="#1a1a1a" stroke-width="1.8" />
<line x1="644.29" y1="977.60" x2="644.29" y2="980.80" stroke="#1a1a1a" stroke-width="1.2" />
<text x="644.29" y="1002.20" font-size="19.2" text-anchor="middle" fill="#1a1a1a">0</text>
<line x1="719.29" y1="977.60" x2="719.29" y2="980.80" stroke="#1a1a1a" stroke-width="1.2" />
<text x="719.29" y="1002.20" font-size="19.2" text-anchor="middle" fill="#1a1a1a">100</text>
<line x1="794.29" y1="977.60" x2="794.29" y2="980.80" stroke="#1a1a1a" stroke-width="1.2" />
<text x="794.29" y="1002.20" font-size="19.2" text-anchor="middle" fill="#1a1a1a">200</text>
<line x1="869.29" y1="977.60" x2="869.29" y2="980.80" stroke="#1a1a1a" stroke-width="1.2" />
<text x="869.29" y="1002.20" font-size="19.2" text-anchor="middle" fill="#1a1a1a">300</text>
<text x="623.80" y="972.60" font-size="16.2" text-anchor="end" fill="#1a1a1a">RS3</text>
<line x1="644.30" y1="957.00" x2="644.30" y2="977.60" stroke="#111" stroke-width="1.9" />
<path d="M690.0,1019.00 C750.2,1017.92 801.8,1016.61 862.0,1016.61 C883.6,1016.61 895.6,1017.92 910.0,1019.00 C895.6,1020.08 883.6,1021.39 862.0,1021.39 C801.8,1021.39 750.2,1020.08 690.0,1019.00 Z" fill="#3b5ba8"/>
<path d="M830.0,1025.00 C845.8,1024.05 859.2,1022.88 875.0,1022.88 C891.2,1022.88 900.2,1024.05 911.0,1025.00 C900.2,1025.95 891.2,1027.12 875.0,1027.12 C859.2,1027.12 845.8,1025.95 830.0,1025.00 Z" fill="#ecb0bc"/>
<path d="M668.0,1031.00 C685.5,1030.09 700.5,1028.98 718.0,1028.98 C740.5,1028.98 753.0,1030.09 768.0,1031.00 C753.0,1031.91 740.5,1033.02 718.0,1033.02 C700.5,1033.02 685.5,1031.91 668.0,1031.00 Z" fill="#808080"/>
<line x1="631.00" y1="1035.60" x2="924.80" y2="1035.60" stroke="#1a1a1a" stroke-width="1.8" />
<line x1="644.29" y1="1035.60" x2="644.29" y2="1038.80" stroke="#1a1a1a" stroke-width="1.2" />
<text x="644.29" y="1060.20" font-size="19.2" text-anchor="middle" fill="#1a1a1a">0.0</text>
<line x1="732.86" y1="1035.60" x2="732.86" y2="1038.80" stroke="#1a1a1a" stroke-width="1.2" />
<text x="732.86" y="1060.20" font-size="19.2" text-anchor="middle" fill="#1a1a1a">0.2</text>
<line x1="820.95" y1="1035.60" x2="820.95" y2="1038.80" stroke="#1a1a1a" stroke-width="1.2" />
<text x="820.95" y="1060.20" font-size="19.2" text-anchor="middle" fill="#1a1a1a">0.4</text>
<line x1="916.90" y1="1035.60" x2="916.90" y2="1038.80" stroke="#1a1a1a" stroke-width="1.2" />
<text x="909.76" y="1060.20" font-size="19.2" text-anchor="middle" fill="#1a1a1a">0.6</text>
<text x="623.80" y="1030.60" font-size="16.2" text-anchor="end" fill="#1a1a1a">mhDel proportion</text>
<line x1="845.50" y1="1015.00" x2="845.50" y2="1035.60" stroke="#111" stroke-width="1.9" />
<path d="M645.0,1074.70 Q679.6,1075.11 736.0,1077.00 Q679.6,1078.89 645.0,1079.30 Z" fill="#3b5ba8"/>
<path d="M645.0,1080.88 Q673.9,1081.26 721.0,1083.00 Q673.9,1084.74 645.0,1085.12 Z" fill="#ecb0bc"/>
<path d="M645.0,1087.16 Q656.4,1087.49 675.0,1089.00 Q656.4,1090.51 645.0,1090.84 Z" fill="#808080"/>
<line x1="631.00" y1="1093.60" x2="924.80" y2="1093.60" stroke="#1a1a1a" stroke-width="1.8" />
<line x1="644.29" y1="1093.60" x2="644.29" y2="1096.80" stroke="#1a1a1a" stroke-width="1.2" />
<text x="644.29" y="1118.20" font-size="19.2" text-anchor="middle" fill="#1a1a1a">0</text>
<line x1="743.10" y1="1093.60" x2="743.10" y2="1096.80" stroke="#1a1a1a" stroke-width="1.2" />
<text x="743.10" y="1118.20" font-size="19.2" text-anchor="middle" fill="#1a1a1a">5000</text>
<line x1="841.90" y1="1093.60" x2="841.90" y2="1096.80" stroke="#1a1a1a" stroke-width="1.2" />
<text x="841.90" y="1118.20" font-size="19.2" text-anchor="middle" fill="#1a1a1a">10000</text>
<text x="623.80" y="1088.60" font-size="16.2" text-anchor="end" fill="#1a1a1a">SNV8</text>
<line x1="755.00" y1="1073.00" x2="755.00" y2="1093.60" stroke="#111" stroke-width="1.9" />
<path d="M645.0,1133.51 C683.5,1133.51 691.2,1132.52 722.0,1132.52 C762.5,1132.52 785.0,1133.88 812.0,1135.00 C785.0,1136.12 762.5,1137.48 722.0,1137.48 C691.2,1137.48 683.5,1136.49 645.0,1136.49 Z" fill="#3b5ba8"/>
<path d="M645.0,1139.56 C685.5,1139.56 693.6,1138.61 726.0,1138.61 C760.2,1138.61 779.2,1139.92 802.0,1141.00 C779.2,1142.08 760.2,1143.39 726.0,1143.39 C693.6,1143.39 685.5,1142.44 645.0,1142.44 Z" fill="#ecb0bc"/>
<line x1="631.00" y1="1151.60" x2="924.80" y2="1151.60" stroke="#1a1a1a" stroke-width="1.8" />
<line x1="644.29" y1="1151.60" x2="644.29" y2="1154.80" stroke="#1a1a1a" stroke-width="1.2" />
<text x="644.29" y="1176.20" font-size="19.2" text-anchor="middle" fill="#1a1a1a">0</text>
<line x1="715.24" y1="1151.60" x2="715.24" y2="1154.80" stroke="#1a1a1a" stroke-width="1.2" />
<text x="715.24" y="1176.20" font-size="19.2" text-anchor="middle" fill="#1a1a1a">3000</text>
<line x1="785.95" y1="1151.60" x2="785.95" y2="1154.80" stroke="#1a1a1a" stroke-width="1.2" />
<text x="785.95" y="1176.20" font-size="19.2" text-anchor="middle" fill="#1a1a1a">6000</text>
<line x1="856.67" y1="1151.60" x2="856.67" y2="1154.80" stroke="#1a1a1a" stroke-width="1.2" />
<text x="856.67" y="1176.20" font-size="19.2" text-anchor="middle" fill="#1a1a1a">9000</text>
<text x="623.80" y="1146.60" font-size="16.2" text-anchor="end" fill="#1a1a1a">SNV3</text>
<line x1="734.80" y1="1131.00" x2="734.80" y2="1151.60" stroke="#111" stroke-width="1.9" />
<text x="989.60" y="42.00" font-size="43" font-weight="bold" textLength="32.20" lengthAdjust="spacingAndGlyphs">b</text>
<text x="1108.20" y="88.40" font-size="24.4" textLength="116.00" lengthAdjust="spacingAndGlyphs">WCM1462</text>
<text x="1106.60" y="119.00" font-size="24.4" textLength="553.00" lengthAdjust="spacingAndGlyphs">Pancreas, Adenocarcinoma (high risk St IIb, T3N1)</text>
<rect x="1122.00" y="174.00" width="58.60" height="33.60" fill="#f6b42b" />
<rect x="1182.60" y="174.00" width="202.80" height="33.60" fill="#f6b42b" />
<text x="1151.40" y="187.60" font-size="10" text-anchor="middle" font-weight="bold" fill="#fff">Adjuvant</text>
<text x="1151.40" y="199.80" font-size="10" text-anchor="middle" font-weight="bold" fill="#fff">Gem/cis</text>
<text x="1284.00" y="187.60" font-size="10" text-anchor="middle" font-weight="bold" fill="#fff">Adjuvant</text>
<text x="1284.00" y="199.80" font-size="10" text-anchor="middle" font-weight="bold" fill="#fff">Rucaparib</text>
<line x1="1117.60" y1="167.30" x2="1117.60" y2="476.60" stroke="#000" stroke-width="4.6" />
<line x1="1105.00" y1="169.60" x2="1554.80" y2="169.60" stroke="#000" stroke-width="4.6" />
<line x1="1537.60" y1="167.30" x2="1537.60" y2="476.60" stroke="#000" stroke-width="4.6" />
<line x1="1105.00" y1="464.00" x2="1554.80" y2="464.00" stroke="#000" stroke-width="4.6" />
<line x1="1105.00" y1="365.80" x2="1117.60" y2="365.80" stroke="#000" stroke-width="4.6" />
<line x1="1105.00" y1="267.60" x2="1117.60" y2="267.60" stroke="#000" stroke-width="4.6" />
<line x1="1537.60" y1="390.35" x2="1554.80" y2="390.35" stroke="#000" stroke-width="4.6" />
<line x1="1537.60" y1="316.70" x2="1554.80" y2="316.70" stroke="#000" stroke-width="4.6" />
<line x1="1537.60" y1="243.05" x2="1554.80" y2="243.05" stroke="#000" stroke-width="4.6" />
<line x1="1117.60" y1="464.00" x2="1117.60" y2="476.60" stroke="#000" stroke-width="4.6" />
<line x1="1138.60" y1="464.00" x2="1138.60" y2="471.60" stroke="#000" stroke-width="4.6" />
<line x1="1159.60" y1="464.00" x2="1159.60" y2="471.60" stroke="#000" stroke-width="4.6" />
<line x1="1180.60" y1="464.00" x2="1180.60" y2="471.60" stroke="#000" stroke-width="4.6" />
<line x1="1201.60" y1="464.00" x2="1201.60" y2="476.60" stroke="#000" stroke-width="4.6" />
<line x1="1222.60" y1="464.00" x2="1222.60" y2="471.60" stroke="#000" stroke-width="4.6" />
<line x1="1243.60" y1="464.00" x2="1243.60" y2="471.60" stroke="#000" stroke-width="4.6" />
<line x1="1264.60" y1="464.00" x2="1264.60" y2="471.60" stroke="#000" stroke-width="4.6" />
<line x1="1285.60" y1="464.00" x2="1285.60" y2="476.60" stroke="#000" stroke-width="4.6" />
<line x1="1306.60" y1="464.00" x2="1306.60" y2="471.60" stroke="#000" stroke-width="4.6" />
<line x1="1327.60" y1="464.00" x2="1327.60" y2="471.60" stroke="#000" stroke-width="4.6" />
<line x1="1348.60" y1="464.00" x2="1348.60" y2="471.60" stroke="#000" stroke-width="4.6" />
<line x1="1369.60" y1="464.00" x2="1369.60" y2="476.60" stroke="#000" stroke-width="4.6" />
<line x1="1390.60" y1="464.00" x2="1390.60" y2="471.60" stroke="#000" stroke-width="4.6" />
<line x1="1411.60" y1="464.00" x2="1411.60" y2="471.60" stroke="#000" stroke-width="4.6" />
<line x1="1432.60" y1="464.00" x2="1432.60" y2="471.60" stroke="#000" stroke-width="4.6" />
<line x1="1453.60" y1="464.00" x2="1453.60" y2="476.60" stroke="#000" stroke-width="4.6" />
<line x1="1474.60" y1="464.00" x2="1474.60" y2="471.60" stroke="#000" stroke-width="4.6" />
<line x1="1495.60" y1="464.00" x2="1495.60" y2="471.60" stroke="#000" stroke-width="4.6" />
<line x1="1516.60" y1="464.00" x2="1516.60" y2="471.60" stroke="#000" stroke-width="4.6" />
<line x1="1537.60" y1="464.00" x2="1537.60" y2="476.60" stroke="#000" stroke-width="4.6" />
<text x="1100.40" y="471.20" font-size="20" text-anchor="end" font-weight="bold">0</text>
<text x="1100.40" y="373.00" font-size="20" text-anchor="end" font-weight="bold">50</text>
<text x="1100.40" y="274.80" font-size="20" text-anchor="end" font-weight="bold">100</text>
<text x="1100.40" y="176.60" font-size="20" text-anchor="end" font-weight="bold">150</text>
<text x="1558.40" y="471.20" font-size="20" font-weight="bold">0.0</text>
<text x="1558.40" y="397.55" font-size="20" font-weight="bold">0.5</text>
<text x="1558.40" y="323.90" font-size="20" font-weight="bold">1.0</text>
<text x="1558.40" y="250.25" font-size="20" font-weight="bold">1.5</text>
<text x="1558.40" y="176.60" font-size="20" font-weight="bold">2.0</text>
<text x="1117.60" y="500.20" font-size="20" text-anchor="middle" font-weight="bold">0</text>
<text x="1201.60" y="500.20" font-size="20" text-anchor="middle" font-weight="bold">12</text>
<text x="1285.60" y="500.20" font-size="20" text-anchor="middle" font-weight="bold">24</text>
<text x="1369.60" y="500.20" font-size="20" text-anchor="middle" font-weight="bold">36</text>
<text x="1453.60" y="500.20" font-size="20" text-anchor="middle" font-weight="bold">48</text>
<text x="1537.60" y="500.20" font-size="20" text-anchor="middle" font-weight="bold">60</text>
<text x="1328.50" y="536.40" font-size="23.1" text-anchor="middle" font-weight="bold">Months</text>
<text x="1046.40" y="321.60" font-size="25.1" text-anchor="middle" font-weight="bold" transform="rotate(-90 1046.40 321.60)">CA-19-9 (U/mL)</text>
<text x="1603.00" y="315.80" font-size="24.2" text-anchor="middle" font-weight="bold" transform="rotate(90 1603.00 315.80)">CEA (ng/mL)</text>
<path d="M1443.7,415.0 L1467.4,415.0 L1455.6,394.4 Z" fill="#1f3a7a"/>
<path d="M1511.0,415.0 L1535.4,415.0 L1523.2,394.4 Z" fill="#1f3a7a"/>
<polyline points="1117.6,460.2 1127.6,463.8 1155.0,464.2 1162.0,464.2 1168.0,464.2 1213.0,464.2 1226.0,464.2 1233.0,464.2 1240.0,464.2 1246.0,464.2 1253.4,464.2 1267.4,464.2 1293.0,463.8 1310.0,464.2 1461.5,463.6 1484.2,464.2 1504.6,463.6 1533.0,464.2" fill="none" stroke="#e6303a" stroke-width="3" stroke-linejoin="round" />
<rect x="1112.10" y="454.70" width="11.00" height="11.00" fill="#e6303a" />
<rect x="1122.10" y="458.30" width="11.00" height="11.00" fill="#e6303a" />
<rect x="1149.50" y="458.70" width="11.00" height="11.00" fill="#e6303a" />
<rect x="1156.50" y="458.70" width="11.00" height="11.00" fill="#e6303a" />
<rect x="1162.50" y="458.70" width="11.00" height="11.00" fill="#e6303a" />
<rect x="1207.50" y="458.70" width="11.00" height="11.00" fill="#e6303a" />
<rect x="1220.50" y="458.70" width="11.00" height="11.00" fill="#e6303a" />
<rect x="1227.50" y="458.70" width="11.00" height="11.00" fill="#e6303a" />
<rect x="1234.50" y="458.70" width="11.00" height="11.00" fill="#e6303a" />
<rect x="1240.50" y="458.70" width="11.00" height="11.00" fill="#e6303a" />
<rect x="1247.90" y="458.70" width="11.00" height="11.00" fill="#e6303a" />
<rect x="1261.90" y="458.70" width="11.00" height="11.00" fill="#e6303a" />
<rect x="1287.50" y="458.30" width="11.00" height="11.00" fill="#e6303a" />
<rect x="1304.50" y="458.70" width="11.00" height="11.00" fill="#e6303a" />
<rect x="1456.00" y="458.10" width="11.00" height="11.00" fill="#e6303a" />
<rect x="1478.70" y="458.70" width="11.00" height="11.00" fill="#e6303a" />
<rect x="1499.10" y="458.10" width="11.00" height="11.00" fill="#e6303a" />
<rect x="1527.50" y="458.70" width="11.00" height="11.00" fill="#e6303a" />
<polyline points="1117.6,175.0 1127.0,442.3 1133.0,443.7 1138.0,446.7 1143.0,449.7 1149.0,451.1 1159.0,450.7 1163.0,447.7 1167.4,444.3 1171.6,447.3 1176.0,449.7 1188.0,442.3 1199.4,450.7 1213.0,450.7 1226.0,450.7 1233.0,450.7 1242.0,450.7 1253.4,450.7 1268.0,452.3 1293.0,450.7 1310.0,448.7 1461.5,451.7 1484.2,450.2 1504.6,451.7 1533.0,454.1" fill="none" stroke="#4169b8" stroke-width="2" stroke-linejoin="round" />
<circle cx="1117.60" cy="175.00" r="5.8" fill="#4169b8" />
<circle cx="1127.00" cy="442.30" r="5.8" fill="#4169b8" />
<circle cx="1133.00" cy="443.70" r="5.8" fill="#4169b8" />
<circle cx="1138.00" cy="446.70" r="5.8" fill="#4169b8" />
<circle cx="1143.00" cy="449.70" r="5.8" fill="#4169b8" />
<circle cx="1149.00" cy="451.10" r="5.8" fill="#4169b8" />
<circle cx="1159.00" cy="450.70" r="5.8" fill="#4169b8" />
<circle cx="1163.00" cy="447.70" r="5.8" fill="#4169b8" />
<circle cx="1167.40" cy="444.30" r="5.8" fill="#4169b8" />
<circle cx="1171.60" cy="447.30" r="5.8" fill="#4169b8" />
<circle cx="1176.00" cy="449.70" r="5.8" fill="#4169b8" />
<circle cx="1188.00" cy="442.30" r="5.8" fill="#4169b8" />
<circle cx="1199.40" cy="450.70" r="5.8" fill="#4169b8" />
<circle cx="1213.00" cy="450.70" r="5.8" fill="#4169b8" />
<circle cx="1226.00" cy="450.70" r="5.8" fill="#4169b8" />
<circle cx="1233.00" cy="450.70" r="5.8" fill="#4169b8" />
<circle cx="1242.00" cy="450.70" r="5.8" fill="#4169b8" />
<circle cx="1253.40" cy="450.70" r="5.8" fill="#4169b8" />
<circle cx="1268.00" cy="452.30" r="5.8" fill="#4169b8" />
<circle cx="1293.00" cy="450.70" r="5.8" fill="#4169b8" />
<circle cx="1310.00" cy="448.70" r="5.8" fill="#4169b8" />
<circle cx="1461.50" cy="451.70" r="5.8" fill="#4169b8" />
<circle cx="1484.20" cy="450.20" r="5.8" fill="#4169b8" />
<circle cx="1504.60" cy="451.70" r="5.8" fill="#4169b8" />
<circle cx="1533.00" cy="454.10" r="5.8" fill="#4169b8" />
<path d="M1108.2,394.2 L1131.9,394.2 L1120.1,415.3 Z" fill="#4a80cc"/>
<g transform="translate(1129.1,362.2) scale(1.000)" stroke="#000" stroke-linejoin="round"><circle cx="0" cy="0" r="2.75" fill="none" stroke-width="1.5"/><circle cx="8.7" cy="8.5" r="2.75" fill="none" stroke-width="1.5"/><path d="M-1.9,3.0 L1.7,3.6 L1.0,9.8 L-3.4,17.2 L-8.9,24.6 L-9.6,24.0 L-5.6,15.4 L-2.8,8.6 Z" fill="#000" stroke-width="0.6"/><path d="M5.7,6.8 L6.3,10.4 L0.6,12.0 L-7.6,16.4 L-16.4,20.1 L-16.3,19.1 L-8.4,14.0 L-0.8,8.8 Z" fill="#000" stroke-width="0.6"/></g>
<line x1="1059.60" y1="609.00" x2="1097.20" y2="609.00" stroke="#4169b8" stroke-width="2" />
<circle cx="1078.60" cy="609.00" r="6.2" fill="#4169b8" />
<text x="1115.40" y="618.20" font-size="26.5" textLength="184.00" lengthAdjust="spacingAndGlyphs">CA19-9 (U/mL)</text>
<line x1="1059.60" y1="658.30" x2="1097.40" y2="658.30" stroke="#e6303a" stroke-width="2" />
<rect x="1072.40" y="652.20" width="12.40" height="12.40" fill="#e6303a" />
<text x="1115.40" y="666.60" font-size="26.5" textLength="156.00" lengthAdjust="spacingAndGlyphs">CEA (ng/mL)</text>
<g transform="translate(1097.4,718.0) scale(1.200)" stroke="#000" stroke-linejoin="round"><circle cx="0" cy="0" r="2.75" fill="none" stroke-width="1.5"/><circle cx="8.7" cy="8.5" r="2.75" fill="none" stroke-width="1.5"/><path d="M-1.9,3.0 L1.7,3.6 L1.0,9.8 L-3.4,17.2 L-8.9,24.6 L-9.6,24.0 L-5.6,15.4 L-2.8,8.6 Z" fill="#000" stroke-width="0.6"/><path d="M5.7,6.8 L6.3,10.4 L0.6,12.0 L-7.6,16.4 L-16.4,20.1 L-16.3,19.1 L-8.4,14.0 L-0.8,8.8 Z" fill="#000" stroke-width="0.6"/></g>
<text x="1121.00" y="737.00" font-size="20" textLength="91.50" lengthAdjust="spacingAndGlyphs">Resection</text>
<path d="M1076.0,780.8 L1106.0,780.8 L1091.0,755.0 Z" fill="#1f3a7a"/>
<text x="1117.40" y="778.00" font-size="20" textLength="124.50" lengthAdjust="spacingAndGlyphs">MRD (ctDNA)</text>
<text x="1827.00" y="53.60" font-size="18" fill="#1a1a1a" textLength="274.40" lengthAdjust="spacingAndGlyphs">WCM1462 - gene status: BRCA2d</text>
<rect x="1848.60" y="71.00" width="18.60" height="18.60" fill="#3b5ba8" />
<text x="1875.80" y="84.40" font-size="12.5" fill="#1a1a1a" textLength="49.20" lengthAdjust="spacingAndGlyphs">BRCA1d</text>
<rect x="1932.60" y="71.00" width="18.60" height="18.60" fill="#ecb0bc" />
<text x="1960.20" y="84.40" font-size="12.5" fill="#1a1a1a" textLength="49.20" lengthAdjust="spacingAndGlyphs">BRCA2d</text>
<rect x="2019.00" y="71.00" width="18.60" height="18.60" fill="#b4b5b6" />
<text x="2045.80" y="84.40" font-size="12.5" fill="#1a1a1a" textLength="27.20" lengthAdjust="spacingAndGlyphs">HRP</text>
<path d="M2008.0,108.40 C2030.4,107.86 2049.6,107.20 2072.0,107.20 C2081.9,107.20 2087.4,107.86 2094.0,108.40 C2087.4,108.94 2081.9,109.60 2072.0,109.60 C2049.6,109.60 2030.4,108.94 2008.0,108.40 Z" fill="#3b5ba8"/>
<path d="M1834.6,113.20 Q1851.9,113.70 1880.0,116.00 Q1851.9,118.30 1834.6,118.80 Z" fill="#ecb0bc"/>
<path d="M1834.6,120.80 Q1851.9,121.30 1880.0,123.60 Q1851.9,125.90 1834.6,126.40 Z" fill="#808080"/>
<text x="1820.60" y="122.20" font-size="16.7" text-anchor="end" fill="#1a1a1a">B1</text>
<path d="M1834.6,131.50 Q1854.5,131.95 1887.0,134.00 Q1854.5,136.05 1834.6,136.50 Z" fill="#3b5ba8"/>
<path d="M2020.0,141.60 C2040.3,141.10 2057.7,140.50 2078.0,140.50 C2086.1,140.50 2090.6,141.10 2096.0,141.60 C2090.6,142.09 2086.1,142.70 2078.0,142.70 C2057.7,142.70 2040.3,142.09 2020.0,141.60 Z" fill="#ecb0bc"/>
<path d="M1834.6,146.40 Q1850.7,146.90 1877.0,149.20 Q1850.7,151.50 1834.6,152.00 Z" fill="#808080"/>
<text x="1820.60" y="147.80" font-size="16.7" text-anchor="end" fill="#1a1a1a">B2</text>
<path d="M2100.0,157.20 Q2082.5,157.86 2065.0,159.40 Q2082.5,160.94 2100.0,161.60 Z" fill="#3b5ba8"/>
<path d="M2100.0,164.50 Q2080.5,165.25 2061.0,167.00 Q2080.5,168.75 2100.0,169.50 Z" fill="#ecb0bc"/>
<path d="M1834.6,171.80 Q1850.3,172.30 1876.0,174.60 Q1850.3,176.90 1834.6,177.40 Z" fill="#808080"/>
<text x="1820.60" y="173.20" font-size="16.7" text-anchor="end" fill="#1a1a1a">HRDetect</text>
<path d="M1834.6,191.00 Q1837.4,191.11 1842.0,191.60 Q1837.4,192.09 1834.6,192.20 Z" fill="#3b5ba8"/>
<path d="M2033.0,191.60 C2045.2,191.06 2055.8,190.40 2068.0,190.40 C2075.2,190.40 2079.2,191.06 2084.0,191.60 C2079.2,192.14 2075.2,192.80 2068.0,192.80 C2055.8,192.80 2045.2,192.14 2033.0,191.60 Z" fill="#3b5ba8"/>
<path d="M1834.6,197.20 Q1862.1,197.56 1907.0,199.20 Q1862.1,200.84 1834.6,201.20 Z" fill="#ecb0bc"/>
<path d="M1834.6,204.00 Q1850.0,204.50 1875.0,206.80 Q1850.0,209.10 1834.6,209.60 Z" fill="#808080"/>
<text x="1820.60" y="205.40" font-size="16.7" text-anchor="end" fill="#1a1a1a">CHORD BRCA1</text>
<path d="M1834.6,214.30 Q1853.8,214.79 1885.0,217.00 Q1853.8,219.21 1834.6,219.70 Z" fill="#3b5ba8"/>
<path d="M1967.0,224.60 C1980.7,223.92 1992.3,223.10 2006.0,223.10 C2022.7,223.10 2031.9,223.92 2043.0,224.60 C2031.9,225.28 2022.7,226.10 2006.0,226.10 C1992.3,226.10 1980.7,225.28 1967.0,224.60 Z" fill="#ecb0bc"/>
<path d="M1834.6,229.40 Q1850.0,229.90 1875.0,232.20 Q1850.0,234.50 1834.6,235.00 Z" fill="#808080"/>
<text x="1820.60" y="230.80" font-size="16.7" text-anchor="end" fill="#1a1a1a">CHORD BRCA2</text>
<line x1="1820.00" y1="240.00" x2="2114.60" y2="240.00" stroke="#1a1a1a" stroke-width="2" />
<line x1="1834.00" y1="240.00" x2="1834.00" y2="243.40" stroke="#1a1a1a" stroke-width="1.2" />
<text x="1837.40" y="261.80" font-size="19.5" text-anchor="middle" fill="#1a1a1a">0.00</text>
<line x1="1900.00" y1="240.00" x2="1900.00" y2="243.40" stroke="#1a1a1a" stroke-width="1.2" />
<text x="1904.20" y="261.80" font-size="19.5" text-anchor="middle" fill="#1a1a1a">0.25</text>
<line x1="1967.00" y1="240.00" x2="1967.00" y2="243.40" stroke="#1a1a1a" stroke-width="1.2" />
<text x="1971.00" y="261.80" font-size="19.5" text-anchor="middle" fill="#1a1a1a">0.50</text>
<line x1="2033.60" y1="240.00" x2="2033.60" y2="243.40" stroke="#1a1a1a" stroke-width="1.2" />
<text x="2037.80" y="261.80" font-size="19.5" text-anchor="middle" fill="#1a1a1a">0.75</text>
<line x1="2101.00" y1="240.00" x2="2101.00" y2="243.40" stroke="#1a1a1a" stroke-width="1.2" />
<text x="2105.00" y="261.80" font-size="19.5" text-anchor="middle" fill="#1a1a1a">1.00</text>
<line x1="1836.40" y1="104.40" x2="1836.40" y2="127.40" stroke="#111" stroke-width="2.4" />
<line x1="1913.40" y1="130.00" x2="1913.40" y2="153.00" stroke="#111" stroke-width="2.4" />
<line x1="2100.00" y1="155.40" x2="2100.00" y2="178.40" stroke="#111" stroke-width="2.4" />
<line x1="1910.00" y1="187.60" x2="1910.00" y2="210.60" stroke="#111" stroke-width="2.4" />
<line x1="1964.60" y1="213.00" x2="1964.60" y2="236.00" stroke="#111" stroke-width="2.4" />
<path d="M1860.0,285.13 Q1868.7,285.35 1883.0,286.40 Q1868.7,287.45 1860.0,287.68 Z" fill="#3b5ba8"/>
<path d="M1860.0,290.56 Q1909.8,290.82 1991.0,292.00 Q1909.8,293.18 1860.0,293.44 Z" fill="#ecb0bc"/>
<line x1="1847.40" y1="300.60" x2="2096.00" y2="300.60" stroke="#1a1a1a" stroke-width="2" />
<line x1="1859.00" y1="300.60" x2="1859.00" y2="303.80" stroke="#1a1a1a" stroke-width="1.2" />
<text x="1859.00" y="325.50" font-size="19.2" text-anchor="middle" fill="#1a1a1a">0.0</text>
<line x1="1906.00" y1="300.60" x2="1906.00" y2="303.80" stroke="#1a1a1a" stroke-width="1.2" />
<text x="1906.40" y="325.50" font-size="19.2" text-anchor="middle" fill="#1a1a1a">2.5</text>
<line x1="1953.00" y1="300.60" x2="1953.00" y2="303.80" stroke="#1a1a1a" stroke-width="1.2" />
<text x="1953.40" y="325.50" font-size="19.2" text-anchor="middle" fill="#1a1a1a">5.0</text>
<line x1="2000.00" y1="300.60" x2="2000.00" y2="303.80" stroke="#1a1a1a" stroke-width="1.2" />
<text x="2001.00" y="325.50" font-size="19.2" text-anchor="middle" fill="#1a1a1a">7.5</text>
<line x1="2047.00" y1="300.60" x2="2047.00" y2="303.80" stroke="#1a1a1a" stroke-width="1.2" />
<text x="2048.60" y="325.50" font-size="19.2" text-anchor="middle" fill="#1a1a1a">10.0</text>
<line x1="2094.40" y1="300.60" x2="2094.40" y2="303.80" stroke="#1a1a1a" stroke-width="1.2" />
<text x="2096.00" y="325.50" font-size="19.2" text-anchor="middle" fill="#1a1a1a">12.5</text>
<text x="1833.40" y="296.60" font-size="17.8" text-anchor="end" fill="#1a1a1a">rDel</text>
<line x1="1877.60" y1="283.60" x2="1877.60" y2="300.60" stroke="#111" stroke-width="2" />
<path d="M1860.0,338.84 Q1896.1,339.08 1955.0,340.20 Q1896.1,341.32 1860.0,341.56 Z" fill="#3b5ba8"/>
<path d="M1860.0,344.44 Q1894.2,344.68 1950.0,345.80 Q1894.2,346.92 1860.0,347.16 Z" fill="#ecb0bc"/>
<line x1="1847.40" y1="354.40" x2="2096.00" y2="354.40" stroke="#1a1a1a" stroke-width="2" />
<line x1="1859.00" y1="354.40" x2="1859.00" y2="357.60" stroke="#1a1a1a" stroke-width="1.2" />
<text x="1859.00" y="379.30" font-size="19.2" text-anchor="middle" fill="#1a1a1a">0.0</text>
<line x1="1915.00" y1="354.40" x2="1915.00" y2="357.60" stroke="#1a1a1a" stroke-width="1.2" />
<text x="1915.60" y="379.30" font-size="19.2" text-anchor="middle" fill="#1a1a1a">2.5</text>
<line x1="1971.60" y1="354.40" x2="1971.60" y2="357.60" stroke="#1a1a1a" stroke-width="1.2" />
<text x="1972.40" y="379.30" font-size="19.2" text-anchor="middle" fill="#1a1a1a">5.0</text>
<line x1="2028.00" y1="354.40" x2="2028.00" y2="357.60" stroke="#1a1a1a" stroke-width="1.2" />
<text x="2029.00" y="379.30" font-size="19.2" text-anchor="middle" fill="#1a1a1a">7.5</text>
<line x1="2084.40" y1="354.40" x2="2084.40" y2="357.60" stroke="#1a1a1a" stroke-width="1.2" />
<text x="2086.60" y="379.30" font-size="19.2" text-anchor="middle" fill="#1a1a1a">10.0</text>
<text x="1833.40" y="350.40" font-size="17.8" text-anchor="end" fill="#1a1a1a">rDelDup</text>
<line x1="1949.40" y1="337.40" x2="1949.40" y2="354.40" stroke="#111" stroke-width="2" />
<path d="M1860.0,393.44 Q1886.2,393.68 1929.0,394.80 Q1886.2,395.92 1860.0,396.16 Z" fill="#3b5ba8"/>
<line x1="1847.40" y1="409.00" x2="2096.00" y2="409.00" stroke="#1a1a1a" stroke-width="2" />
<line x1="1859.00" y1="409.00" x2="1859.00" y2="412.20" stroke="#1a1a1a" stroke-width="1.2" />
<text x="1858.00" y="433.90" font-size="19.2" text-anchor="middle" fill="#1a1a1a">0</text>
<line x1="1906.00" y1="409.00" x2="1906.00" y2="412.20" stroke="#1a1a1a" stroke-width="1.2" />
<text x="1905.00" y="433.90" font-size="19.2" text-anchor="middle" fill="#1a1a1a">5</text>
<line x1="1953.00" y1="409.00" x2="1953.00" y2="412.20" stroke="#1a1a1a" stroke-width="1.2" />
<text x="1953.60" y="433.90" font-size="19.2" text-anchor="middle" fill="#1a1a1a">10</text>
<line x1="2000.00" y1="409.00" x2="2000.00" y2="412.20" stroke="#1a1a1a" stroke-width="1.2" />
<text x="2000.40" y="433.90" font-size="19.2" text-anchor="middle" fill="#1a1a1a">15</text>
<line x1="2047.00" y1="409.00" x2="2047.00" y2="412.20" stroke="#1a1a1a" stroke-width="1.2" />
<text x="2046.60" y="433.90" font-size="19.2" text-anchor="middle" fill="#1a1a1a">20</text>
<line x1="2094.00" y1="409.00" x2="2094.00" y2="412.20" stroke="#1a1a1a" stroke-width="1.2" />
<text x="2094.00" y="433.90" font-size="19.2" text-anchor="middle" fill="#1a1a1a">25</text>
<text x="1833.40" y="405.00" font-size="17.8" text-anchor="end" fill="#1a1a1a">rDup</text>
<line x1="1859.00" y1="392.00" x2="1859.00" y2="409.00" stroke="#111" stroke-width="4" />
<path d="M1860.0,446.44 Q1911.3,446.68 1995.0,447.80 Q1911.3,448.92 1860.0,449.16 Z" fill="#3b5ba8"/>
<path d="M1860.0,452.72 Q1861.5,452.84 1864.0,453.40 Q1861.5,453.96 1860.0,454.08 Z" fill="#ecb0bc"/>
<line x1="1847.40" y1="462.00" x2="2096.00" y2="462.00" stroke="#1a1a1a" stroke-width="2" />
<line x1="1859.00" y1="462.00" x2="1859.00" y2="465.20" stroke="#1a1a1a" stroke-width="1.2" />
<text x="1858.00" y="486.90" font-size="19.2" text-anchor="middle" fill="#1a1a1a">0</text>
<line x1="1917.40" y1="462.00" x2="1917.40" y2="465.20" stroke="#1a1a1a" stroke-width="1.2" />
<text x="1917.40" y="486.90" font-size="19.2" text-anchor="middle" fill="#1a1a1a">30</text>
<line x1="1976.40" y1="462.00" x2="1976.40" y2="465.20" stroke="#1a1a1a" stroke-width="1.2" />
<text x="1976.40" y="486.90" font-size="19.2" text-anchor="middle" fill="#1a1a1a">60</text>
<line x1="2035.40" y1="462.00" x2="2035.40" y2="465.20" stroke="#1a1a1a" stroke-width="1.2" />
<text x="2035.40" y="486.90" font-size="19.2" text-anchor="middle" fill="#1a1a1a">90</text>
<line x1="2094.00" y1="462.00" x2="2094.00" y2="465.20" stroke="#1a1a1a" stroke-width="1.2" />
<text x="2096.00" y="486.90" font-size="19.2" text-anchor="middle" fill="#1a1a1a">120</text>
<text x="1833.40" y="458.00" font-size="17.8" text-anchor="end" fill="#1a1a1a">Dups 1–100Kbp</text>
<line x1="1870.60" y1="445.00" x2="1870.60" y2="462.00" stroke="#111" stroke-width="2" />
<path d="M1860.0,495.53 Q1874.4,495.75 1898.0,496.80 Q1874.4,497.85 1860.0,498.07 Z" fill="#3b5ba8"/>
<path d="M1860.0,501.04 Q1888.5,501.28 1935.0,502.40 Q1888.5,503.52 1860.0,503.76 Z" fill="#ecb0bc"/>
<line x1="1847.40" y1="511.00" x2="2096.00" y2="511.00" stroke="#1a1a1a" stroke-width="2" />
<line x1="1859.00" y1="511.00" x2="1859.00" y2="514.20" stroke="#1a1a1a" stroke-width="1.2" />
<text x="1858.00" y="535.90" font-size="19.2" text-anchor="middle" fill="#1a1a1a">0</text>
<line x1="1934.00" y1="511.00" x2="1934.00" y2="514.20" stroke="#1a1a1a" stroke-width="1.2" />
<text x="1933.40" y="535.90" font-size="19.2" text-anchor="middle" fill="#1a1a1a">2</text>
<line x1="2009.00" y1="511.00" x2="2009.00" y2="514.20" stroke="#1a1a1a" stroke-width="1.2" />
<text x="2008.40" y="535.90" font-size="19.2" text-anchor="middle" fill="#1a1a1a">4</text>
<line x1="2084.40" y1="511.00" x2="2084.40" y2="514.20" stroke="#1a1a1a" stroke-width="1.2" />
<text x="2083.60" y="535.90" font-size="19.2" text-anchor="middle" fill="#1a1a1a">6</text>
<text x="1833.40" y="507.00" font-size="17.8" text-anchor="end" fill="#1a1a1a">ihDels</text>
<line x1="1972.00" y1="494.00" x2="1972.00" y2="511.00" stroke="#111" stroke-width="2" />
<path d="M1886.0,550.80 C1922.4,550.15 1953.6,549.35 1990.0,549.35 C2026.0,549.35 2046.0,550.15 2070.0,550.80 C2046.0,551.45 2026.0,552.25 1990.0,552.25 C1953.6,552.25 1922.4,551.45 1886.0,550.80 Z" fill="#3b5ba8"/>
<path d="M1917.0,556.40 C1940.8,555.75 1961.2,554.95 1985.0,554.95 C2018.3,554.95 2036.8,555.75 2059.0,556.40 C2036.8,557.05 2018.3,557.85 1985.0,557.85 C1961.2,557.85 1940.8,557.05 1917.0,556.40 Z" fill="#ecb0bc"/>
<path d="M1860.0,560.58 Q1869.5,560.76 1885.0,561.60 Q1869.5,562.44 1860.0,562.62 Z" fill="#808080"/>
<line x1="1847.40" y1="565.00" x2="2096.00" y2="565.00" stroke="#1a1a1a" stroke-width="2" />
<line x1="1859.00" y1="565.00" x2="1859.00" y2="568.20" stroke="#1a1a1a" stroke-width="1.2" />
<text x="1858.00" y="589.90" font-size="19.2" text-anchor="middle" fill="#1a1a1a">0</text>
<line x1="1903.60" y1="565.00" x2="1903.60" y2="568.20" stroke="#1a1a1a" stroke-width="1.2" />
<text x="1903.00" y="589.90" font-size="19.2" text-anchor="middle" fill="#1a1a1a">5</text>
<line x1="1948.60" y1="565.00" x2="1948.60" y2="568.20" stroke="#1a1a1a" stroke-width="1.2" />
<text x="1950.00" y="589.90" font-size="19.2" text-anchor="middle" fill="#1a1a1a">10</text>
<line x1="1993.60" y1="565.00" x2="1993.60" y2="568.20" stroke="#1a1a1a" stroke-width="1.2" />
<text x="1995.00" y="589.90" font-size="19.2" text-anchor="middle" fill="#1a1a1a">15</text>
<line x1="2038.60" y1="565.00" x2="2038.60" y2="568.20" stroke="#1a1a1a" stroke-width="1.2" />
<text x="2039.40" y="589.90" font-size="19.2" text-anchor="middle" fill="#1a1a1a">20</text>
<line x1="2084.00" y1="565.00" x2="2084.00" y2="568.20" stroke="#1a1a1a" stroke-width="1.2" />
<text x="2084.40" y="589.90" font-size="19.2" text-anchor="middle" fill="#1a1a1a">25</text>
<text x="1833.40" y="561.00" font-size="17.8" text-anchor="end" fill="#1a1a1a">HRD score (LOH)</text>
<line x1="2012.60" y1="548.00" x2="2012.60" y2="565.00" stroke="#111" stroke-width="2" />
<path d="M1860.0,603.52 Q1883.9,603.75 1923.0,604.80 Q1883.9,605.85 1860.0,606.07 Z" fill="#3b5ba8"/>
<path d="M1860.0,609.04 Q1894.6,609.28 1951.0,610.40 Q1894.6,611.52 1860.0,611.76 Z" fill="#ecb0bc"/>
<line x1="1847.40" y1="619.00" x2="2096.00" y2="619.00" stroke="#1a1a1a" stroke-width="2" />
<line x1="1859.00" y1="619.00" x2="1859.00" y2="622.20" stroke="#1a1a1a" stroke-width="1.2" />
<text x="1858.00" y="643.90" font-size="19.2" text-anchor="middle" fill="#1a1a1a">0</text>
<line x1="1914.00" y1="619.00" x2="1914.00" y2="622.20" stroke="#1a1a1a" stroke-width="1.2" />
<text x="1913.00" y="643.90" font-size="19.2" text-anchor="middle" fill="#1a1a1a">50</text>
<line x1="1969.00" y1="619.00" x2="1969.00" y2="622.20" stroke="#1a1a1a" stroke-width="1.2" />
<text x="1970.40" y="643.90" font-size="19.2" text-anchor="middle" fill="#1a1a1a">100</text>
<line x1="2024.00" y1="619.00" x2="2024.00" y2="622.20" stroke="#1a1a1a" stroke-width="1.2" />
<text x="2025.00" y="643.90" font-size="19.2" text-anchor="middle" fill="#1a1a1a">150</text>
<line x1="2079.00" y1="619.00" x2="2079.00" y2="622.20" stroke="#1a1a1a" stroke-width="1.2" />
<text x="2079.60" y="643.90" font-size="19.2" text-anchor="middle" fill="#1a1a1a">200</text>
<text x="1833.40" y="615.00" font-size="17.8" text-anchor="end" fill="#1a1a1a">RS5</text>
<line x1="1926.40" y1="602.00" x2="1926.40" y2="619.00" stroke="#111" stroke-width="2" />
<path d="M1860.0,657.44 Q1885.5,657.68 1927.0,658.80 Q1885.5,659.92 1860.0,660.16 Z" fill="#3b5ba8"/>
<line x1="1847.40" y1="673.00" x2="2096.00" y2="673.00" stroke="#1a1a1a" stroke-width="2" />
<line x1="1859.24" y1="673.00" x2="1859.24" y2="676.20" stroke="#1a1a1a" stroke-width="1.2" />
<text x="1858.14" y="697.90" font-size="19.2" text-anchor="middle" fill="#1a1a1a">0</text>
<line x1="1922.71" y1="673.00" x2="1922.71" y2="676.20" stroke="#1a1a1a" stroke-width="1.2" />
<text x="1923.54" y="697.90" font-size="19.2" text-anchor="middle" fill="#1a1a1a">100</text>
<line x1="1985.63" y1="673.00" x2="1985.63" y2="676.20" stroke="#1a1a1a" stroke-width="1.2" />
<text x="1986.46" y="697.90" font-size="19.2" text-anchor="middle" fill="#1a1a1a">200</text>
<line x1="2048.55" y1="673.00" x2="2048.55" y2="676.20" stroke="#1a1a1a" stroke-width="1.2" />
<text x="2049.66" y="697.90" font-size="19.2" text-anchor="middle" fill="#1a1a1a">300</text>
<text x="1833.40" y="669.00" font-size="17.8" text-anchor="end" fill="#1a1a1a">RS3</text>
<line x1="1859.00" y1="656.00" x2="1859.00" y2="673.00" stroke="#111" stroke-width="4" />
<path d="M1980.0,712.80 C2001.7,712.19 2020.3,711.44 2042.0,711.44 C2057.8,711.44 2066.5,712.19 2077.0,712.80 C2066.5,713.41 2057.8,714.16 2042.0,714.16 C2020.3,714.16 2001.7,713.41 1980.0,712.80 Z" fill="#3b5ba8"/>
<path d="M1919.0,712.80 C1926.3,712.59 1932.7,712.33 1940.0,712.33 C1949.9,712.33 1955.4,712.59 1962.0,712.80 C1955.4,713.01 1949.9,713.27 1940.0,713.27 C1932.7,713.27 1926.3,713.01 1919.0,712.80 Z" fill="#8a8a8a"/>
<path d="M2027.0,718.40 C2035.8,717.86 2043.2,717.21 2052.0,717.21 C2065.5,717.21 2073.0,717.86 2082.0,718.40 C2073.0,718.94 2065.5,719.59 2052.0,719.59 C2043.2,719.59 2035.8,718.94 2027.0,718.40 Z" fill="#ecb0bc"/>
<path d="M1885.0,723.60 C1897.2,723.03 1907.8,722.33 1920.0,722.33 C1934.8,722.33 1943.1,723.03 1953.0,723.60 C1943.1,724.17 1934.8,724.88 1920.0,724.88 C1907.8,724.88 1897.2,724.17 1885.0,723.60 Z" fill="#808080"/>
<line x1="1847.40" y1="727.00" x2="2096.00" y2="727.00" stroke="#1a1a1a" stroke-width="2" />
<line x1="1859.24" y1="727.00" x2="1859.24" y2="730.20" stroke="#1a1a1a" stroke-width="1.2" />
<text x="1859.24" y="751.90" font-size="19.2" text-anchor="middle" fill="#1a1a1a">0.0</text>
<line x1="1933.75" y1="727.00" x2="1933.75" y2="730.20" stroke="#1a1a1a" stroke-width="1.2" />
<text x="1934.58" y="751.90" font-size="19.2" text-anchor="middle" fill="#1a1a1a">0.2</text>
<line x1="2008.26" y1="727.00" x2="2008.26" y2="730.20" stroke="#1a1a1a" stroke-width="1.2" />
<text x="2009.09" y="751.90" font-size="19.2" text-anchor="middle" fill="#1a1a1a">0.4</text>
<line x1="2083.05" y1="727.00" x2="2083.05" y2="730.20" stroke="#1a1a1a" stroke-width="1.2" />
<text x="2083.60" y="751.90" font-size="19.2" text-anchor="middle" fill="#1a1a1a">0.6</text>
<text x="1833.40" y="723.00" font-size="17.8" text-anchor="end" fill="#1a1a1a">mhDel proportion</text>
<line x1="2046.30" y1="710.00" x2="2046.30" y2="727.00" stroke="#111" stroke-width="2" />
<path d="M1860.0,765.92 Q1882.6,766.15 1919.4,767.20 Q1882.6,768.25 1860.0,768.47 Z" fill="#3b5ba8"/>
<path d="M1860.0,771.52 Q1878.2,771.75 1908.0,772.80 Q1878.2,773.85 1860.0,774.07 Z" fill="#ecb0bc"/>
<path d="M1860.0,776.98 Q1865.3,777.16 1874.0,778.00 Q1865.3,778.84 1860.0,779.02 Z" fill="#808080"/>
<line x1="1847.40" y1="781.40" x2="2096.00" y2="781.40" stroke="#1a1a1a" stroke-width="2" />
<line x1="1859.24" y1="781.40" x2="1859.24" y2="784.60" stroke="#1a1a1a" stroke-width="1.2" />
<text x="1858.14" y="806.30" font-size="19.2" text-anchor="middle" fill="#1a1a1a">0</text>
<line x1="1942.03" y1="781.40" x2="1942.03" y2="784.60" stroke="#1a1a1a" stroke-width="1.2" />
<text x="1944.24" y="806.30" font-size="19.2" text-anchor="middle" fill="#1a1a1a">5000</text>
<line x1="2025.65" y1="781.40" x2="2025.65" y2="784.60" stroke="#1a1a1a" stroke-width="1.2" />
<text x="2029.24" y="806.30" font-size="19.2" text-anchor="middle" fill="#1a1a1a">10000</text>
<text x="1833.40" y="777.40" font-size="17.8" text-anchor="end" fill="#1a1a1a">SNV8</text>
<line x1="1914.00" y1="764.40" x2="1914.00" y2="781.40" stroke="#111" stroke-width="2" />
<path d="M1860.0,820.13 C1887.5,820.13 1893.0,819.55 1915.0,819.55 C1943.3,819.55 1959.1,820.35 1978.0,821.00 C1959.1,821.65 1943.3,822.45 1915.0,822.45 C1893.0,822.45 1887.5,821.87 1860.0,821.87 Z" fill="#3b5ba8"/>
<path d="M1860.0,825.73 C1887.5,825.73 1893.0,825.15 1915.0,825.15 C1943.3,825.15 1959.1,825.95 1978.0,826.60 C1959.1,827.25 1943.3,828.05 1915.0,828.05 C1893.0,828.05 1887.5,827.47 1860.0,827.47 Z" fill="#ecb0bc"/>
<line x1="1847.40" y1="835.20" x2="2096.00" y2="835.20" stroke="#1a1a1a" stroke-width="2" />
<line x1="1859.24" y1="835.20" x2="1859.24" y2="838.40" stroke="#1a1a1a" stroke-width="1.2" />
<text x="1858.14" y="860.10" font-size="19.2" text-anchor="middle" fill="#1a1a1a">0</text>
<line x1="1919.40" y1="835.20" x2="1919.40" y2="838.40" stroke="#1a1a1a" stroke-width="1.2" />
<text x="1920.78" y="860.10" font-size="19.2" text-anchor="middle" fill="#1a1a1a">3000</text>
<line x1="1978.73" y1="835.20" x2="1978.73" y2="838.40" stroke="#1a1a1a" stroke-width="1.2" />
<text x="1980.67" y="860.10" font-size="19.2" text-anchor="middle" fill="#1a1a1a">6000</text>
<line x1="2038.62" y1="835.20" x2="2038.62" y2="838.40" stroke="#1a1a1a" stroke-width="1.2" />
<text x="2040.27" y="860.10" font-size="19.2" text-anchor="middle" fill="#1a1a1a">9000</text>
<text x="1833.40" y="831.20" font-size="17.8" text-anchor="end" fill="#1a1a1a">SNV3</text>
<line x1="1922.00" y1="818.20" x2="1922.00" y2="835.20" stroke="#111" stroke-width="2" />
<text x="990.20" y="941.80" font-size="45.5" font-weight="bold" textLength="29.60" lengthAdjust="spacingAndGlyphs">c</text>
<text x="1108.20" y="961.00" font-size="24.4" textLength="116.00" lengthAdjust="spacingAndGlyphs">WCM1341</text>
<text x="1106.60" y="992.40" font-size="24.4" textLength="439.00" lengthAdjust="spacingAndGlyphs">Pancreas, Adenocarcinoma (Metastatic)</text>
<rect x="1154.40" y="1034.00" width="182.60" height="21.20" fill="#f6b42b" />
<rect x="1341.60" y="1034.00" width="199.40" height="21.20" fill="#f6b42b" />
<text x="1245.60" y="1047.80" font-size="10.4" text-anchor="middle" font-weight="bold" fill="#fff">FOLFIRINOX</text>
<text x="1440.50" y="1047.80" font-size="10.4" text-anchor="middle" font-weight="bold" fill="#fff">FOLFIRI</text>
<line x1="1138.00" y1="1030.10" x2="1138.00" y2="1351.00" stroke="#000" stroke-width="4.6" />
<line x1="1125.00" y1="1338.00" x2="1571.00" y2="1338.00" stroke="#000" stroke-width="4.6" />
<line x1="1125.00" y1="1261.60" x2="1138.00" y2="1261.60" stroke="#000" stroke-width="4.6" />
<line x1="1125.00" y1="1185.20" x2="1138.00" y2="1185.20" stroke="#000" stroke-width="4.6" />
<line x1="1125.00" y1="1108.80" x2="1138.00" y2="1108.80" stroke="#000" stroke-width="4.6" />
<line x1="1125.00" y1="1032.40" x2="1138.00" y2="1032.40" stroke="#000" stroke-width="4.6" />
<line x1="1138.00" y1="1338.00" x2="1138.00" y2="1351.00" stroke="#000" stroke-width="4.6" />
<line x1="1163.28" y1="1338.00" x2="1163.28" y2="1346.00" stroke="#000" stroke-width="4.6" />
<line x1="1188.55" y1="1338.00" x2="1188.55" y2="1346.00" stroke="#000" stroke-width="4.6" />
<line x1="1213.83" y1="1338.00" x2="1213.83" y2="1346.00" stroke="#000" stroke-width="4.6" />
<line x1="1239.10" y1="1338.00" x2="1239.10" y2="1351.00" stroke="#000" stroke-width="4.6" />
<line x1="1264.38" y1="1338.00" x2="1264.38" y2="1346.00" stroke="#000" stroke-width="4.6" />
<line x1="1289.65" y1="1338.00" x2="1289.65" y2="1346.00" stroke="#000" stroke-width="4.6" />
<line x1="1314.92" y1="1338.00" x2="1314.92" y2="1346.00" stroke="#000" stroke-width="4.6" />
<line x1="1340.20" y1="1338.00" x2="1340.20" y2="1351.00" stroke="#000" stroke-width="4.6" />
<line x1="1365.47" y1="1338.00" x2="1365.47" y2="1346.00" stroke="#000" stroke-width="4.6" />
<line x1="1390.75" y1="1338.00" x2="1390.75" y2="1346.00" stroke="#000" stroke-width="4.6" />
<line x1="1416.03" y1="1338.00" x2="1416.03" y2="1346.00" stroke="#000" stroke-width="4.6" />
<line x1="1441.30" y1="1338.00" x2="1441.30" y2="1351.00" stroke="#000" stroke-width="4.6" />
<line x1="1466.58" y1="1338.00" x2="1466.58" y2="1346.00" stroke="#000" stroke-width="4.6" />
<line x1="1491.85" y1="1338.00" x2="1491.85" y2="1346.00" stroke="#000" stroke-width="4.6" />
<line x1="1517.12" y1="1338.00" x2="1517.12" y2="1346.00" stroke="#000" stroke-width="4.6" />
<line x1="1542.40" y1="1338.00" x2="1542.40" y2="1351.00" stroke="#000" stroke-width="4.6" />
<line x1="1567.67" y1="1338.00" x2="1567.67" y2="1346.00" stroke="#000" stroke-width="4.6" />
<text x="1119.60" y="1345.40" font-size="21" text-anchor="end" font-weight="bold">0</text>
<text x="1119.60" y="1269.00" font-size="21" text-anchor="end" font-weight="bold">40000</text>
<text x="1119.60" y="1192.60" font-size="21" text-anchor="end" font-weight="bold">80000</text>
<text x="1119.60" y="1116.20" font-size="21" text-anchor="end" font-weight="bold">120000</text>
<text x="1119.60" y="1039.80" font-size="21" text-anchor="end" font-weight="bold">160000</text>
<text x="1138.00" y="1376.60" font-size="21" text-anchor="middle" font-weight="bold">0</text>
<text x="1239.10" y="1376.60" font-size="21" text-anchor="middle" font-weight="bold">12</text>
<text x="1340.20" y="1376.60" font-size="21" text-anchor="middle" font-weight="bold">24</text>
<text x="1441.30" y="1376.60" font-size="21" text-anchor="middle" font-weight="bold">36</text>
<text x="1542.40" y="1376.60" font-size="21" text-anchor="middle" font-weight="bold">48</text>
<text x="1352.40" y="1412.60" font-size="23" text-anchor="middle" font-weight="bold">Weeks</text>
<text x="1026.60" y="1185.80" font-size="24.9" text-anchor="middle" font-weight="bold" transform="rotate(-90 1026.60 1185.80)">CA-19-9 (U/mL)</text>
<polyline points="1138.0,1047.6 1154.4,1139.0 1171.7,1248.8 1188.2,1306.2 1205.0,1322.6 1222.0,1330.8 1236.8,1334.4 1256.0,1337.0 1273.0,1337.8 1315.2,1338.0 1332.0,1338.0 1348.2,1338.0 1365.4,1338.0 1389.6,1338.0 1407.5,1338.0 1432.7,1338.0 1449.6,1338.0 1466.4,1338.0 1483.6,1338.0 1500.4,1338.0 1517.6,1338.0 1534.4,1338.0 1551.0,1338.0 1568.4,1338.0" fill="none" stroke="#000" stroke-width="2.2" stroke-linejoin="round" />
<circle cx="1138.00" cy="1047.60" r="5.6" fill="#000" />
<circle cx="1154.40" cy="1139.00" r="5.6" fill="#000" />
<circle cx="1171.70" cy="1248.80" r="5.6" fill="#000" />
<circle cx="1188.20" cy="1306.20" r="5.6" fill="#000" />
<circle cx="1205.00" cy="1322.60" r="5.6" fill="#000" />
<circle cx="1222.00" cy="1330.80" r="5.6" fill="#000" />
<circle cx="1236.80" cy="1334.40" r="5.6" fill="#000" />
<circle cx="1256.00" cy="1337.00" r="5.6" fill="#000" />
<circle cx="1273.00" cy="1337.80" r="5.6" fill="#000" />
<circle cx="1315.20" cy="1338.00" r="5.6" fill="#000" />
<circle cx="1332.00" cy="1338.00" r="5.6" fill="#000" />
<circle cx="1348.20" cy="1338.00" r="5.6" fill="#000" />
<circle cx="1365.40" cy="1338.00" r="5.6" fill="#000" />
<circle cx="1389.60" cy="1338.00" r="5.6" fill="#000" />
<circle cx="1407.50" cy="1338.00" r="5.6" fill="#000" />
<circle cx="1432.70" cy="1338.00" r="5.6" fill="#000" />
<circle cx="1449.60" cy="1338.00" r="5.6" fill="#000" />
<circle cx="1466.40" cy="1338.00" r="5.6" fill="#000" />
<circle cx="1483.60" cy="1338.00" r="5.6" fill="#000" />
<circle cx="1500.40" cy="1338.00" r="5.6" fill="#000" />
<circle cx="1517.60" cy="1338.00" r="5.6" fill="#000" />
<circle cx="1534.40" cy="1338.00" r="5.6" fill="#000" />
<circle cx="1551.00" cy="1338.00" r="5.6" fill="#000" />
<circle cx="1568.40" cy="1338.00" r="5.6" fill="#000" />
<path d="M1201.8,1275.6 L1227.7,1275.6 L1214.8,1297.7 Z" fill="#3f74bd"/>
<path d="M1546.7,1279.5 L1572.0,1279.5 L1559.3,1302.5 Z" fill="#3f74bd"/>
<text x="1214.80" y="1288.80" font-size="13" text-anchor="middle" fill="#fff">1</text>
<text x="1559.20" y="1293.40" font-size="13" text-anchor="middle" fill="#fff">2</text>
<text x="1831.20" y="952.20" font-size="18" fill="#1a1a1a" textLength="274.40" lengthAdjust="spacingAndGlyphs">WCM1341 - gene status: BRCA1d</text>
<rect x="1870.00" y="971.40" width="18.40" height="18.40" fill="#3b5ba8" />
<text x="1897.80" y="985.20" font-size="12.5" fill="#1a1a1a" textLength="49.00" lengthAdjust="spacingAndGlyphs">BRCA1d</text>
<rect x="1954.00" y="971.40" width="18.40" height="18.40" fill="#ecb0bc" />
<text x="1981.10" y="985.20" font-size="12.5" fill="#1a1a1a" textLength="49.20" lengthAdjust="spacingAndGlyphs">BRCA2d</text>
<rect x="2040.40" y="971.40" width="18.40" height="18.40" fill="#b4b5b6" />
<text x="2068.00" y="985.20" font-size="12.5" fill="#1a1a1a" textLength="26.80" lengthAdjust="spacingAndGlyphs">HRP</text>
<path d="M2013.9,1007.40 C2037.0,1006.95 2056.9,1006.40 2080.0,1006.40 C2090.3,1006.40 2096.1,1006.95 2103.0,1007.40 C2096.1,1007.85 2090.3,1008.40 2080.0,1008.40 C2056.9,1008.40 2037.0,1007.85 2013.9,1007.40 Z" fill="#3b5ba8"/>
<path d="M1839.2,1012.90 Q1856.9,1013.35 1885.8,1015.40 Q1856.9,1017.45 1839.2,1017.90 Z" fill="#ecb0bc"/>
<path d="M1839.2,1020.70 Q1856.0,1021.19 1883.4,1023.40 Q1856.0,1025.61 1839.2,1026.10 Z" fill="#808080"/>
<text x="1818.70" y="1021.80" font-size="16.4" text-anchor="end" fill="#1a1a1a" textLength="15.40" lengthAdjust="spacingAndGlyphs">B1</text>
<path d="M1839.2,1031.00 Q1859.9,1031.45 1893.8,1033.50 Q1859.9,1035.55 1839.2,1036.00 Z" fill="#3b5ba8"/>
<path d="M2021.0,1041.50 C2043.4,1041.05 2062.6,1040.50 2085.0,1040.50 C2093.7,1040.50 2098.6,1041.05 2104.4,1041.50 C2098.6,1041.95 2093.7,1042.50 2085.0,1042.50 C2062.6,1042.50 2043.4,1041.95 2021.0,1041.50 Z" fill="#ecb0bc"/>
<path d="M1839.2,1046.80 Q1856.5,1047.29 1884.6,1049.50 Q1856.5,1051.71 1839.2,1052.20 Z" fill="#808080"/>
<text x="1818.70" y="1047.90" font-size="16.4" text-anchor="end" fill="#1a1a1a" textLength="17.20" lengthAdjust="spacingAndGlyphs">B2</text>
<path d="M2110.5,1058.60 Q2092.2,1059.20 2074.0,1060.60 Q2092.2,1062.00 2110.5,1062.60 Z" fill="#3b5ba8"/>
<path d="M2110.5,1066.10 Q2091.2,1066.85 2071.8,1068.60 Q2091.2,1070.35 2110.5,1071.10 Z" fill="#ecb0bc"/>
<path d="M1839.2,1073.90 Q1855.5,1074.39 1882.0,1076.60 Q1855.5,1078.81 1839.2,1079.30 Z" fill="#808080"/>
<text x="1818.70" y="1075.00" font-size="16.4" text-anchor="end" fill="#1a1a1a">HRDetect</text>
<path d="M1839.2,1089.70 Q1843.7,1089.81 1851.0,1090.30 Q1843.7,1090.79 1839.2,1090.90 Z" fill="#3b5ba8"/>
<path d="M2041.6,1090.30 C2054.3,1089.85 2065.3,1089.30 2078.0,1089.30 C2085.0,1089.30 2088.9,1089.85 2093.6,1090.30 C2088.9,1090.75 2085.0,1091.30 2078.0,1091.30 C2065.3,1091.30 2054.3,1090.75 2041.6,1090.30 Z" fill="#3b5ba8"/>
<path d="M1839.2,1096.30 Q1869.8,1096.66 1919.7,1098.30 Q1869.8,1099.94 1839.2,1100.30 Z" fill="#ecb0bc"/>
<path d="M1839.2,1103.60 Q1854.7,1104.09 1880.0,1106.30 Q1854.7,1108.51 1839.2,1109.00 Z" fill="#808080"/>
<text x="1818.70" y="1104.70" font-size="16.4" text-anchor="end" fill="#1a1a1a">CHORD BRCA1</text>
<path d="M1839.2,1114.40 Q1858.3,1114.85 1889.5,1116.90 Q1858.3,1118.95 1839.2,1119.40 Z" fill="#3b5ba8"/>
<path d="M1976.4,1124.90 C1990.3,1124.23 2002.1,1123.40 2016.0,1123.40 C2033.5,1123.40 2043.3,1124.23 2055.0,1124.90 C2043.3,1125.58 2033.5,1126.40 2016.0,1126.40 C2002.1,1126.40 1990.3,1125.58 1976.4,1124.90 Z" fill="#ecb0bc"/>
<path d="M1839.2,1130.20 Q1854.7,1130.69 1880.0,1132.90 Q1854.7,1135.11 1839.2,1135.60 Z" fill="#808080"/>
<text x="1818.70" y="1131.30" font-size="16.4" text-anchor="end" fill="#1a1a1a">CHORD BRCA2</text>
<line x1="1824.00" y1="1140.50" x2="2125.00" y2="1140.50" stroke="#1a1a1a" stroke-width="2.3" />
<line x1="1838.74" y1="1140.50" x2="1838.74" y2="1143.90" stroke="#1a1a1a" stroke-width="1.2" />
<text x="1839.95" y="1161.50" font-size="16" text-anchor="middle" fill="#1a1a1a">0.00</text>
<line x1="1906.38" y1="1140.50" x2="1906.38" y2="1143.90" stroke="#1a1a1a" stroke-width="1.2" />
<text x="1908.07" y="1161.50" font-size="16" text-anchor="middle" fill="#1a1a1a">0.25</text>
<line x1="1974.01" y1="1140.50" x2="1974.01" y2="1143.90" stroke="#1a1a1a" stroke-width="1.2" />
<text x="1976.43" y="1161.50" font-size="16" text-anchor="middle" fill="#1a1a1a">0.50</text>
<line x1="2043.33" y1="1140.50" x2="2043.33" y2="1143.90" stroke="#1a1a1a" stroke-width="1.2" />
<text x="2044.78" y="1161.50" font-size="16" text-anchor="middle" fill="#1a1a1a">0.75</text>
<line x1="2096.70" y1="1003.40" x2="2096.70" y2="1027.40" stroke="#111" stroke-width="2.4" />
<line x1="1841.60" y1="1029.50" x2="1841.60" y2="1053.50" stroke="#111" stroke-width="2.4" />
<line x1="2110.00" y1="1056.60" x2="2110.00" y2="1080.60" stroke="#111" stroke-width="2.4" />
<line x1="2084.40" y1="1086.30" x2="2084.40" y2="1110.30" stroke="#111" stroke-width="2.4" />
<line x1="1841.60" y1="1112.90" x2="1841.60" y2="1136.90" stroke="#111" stroke-width="2.4" />
<path d="M1864.0,1185.12 Q1872.7,1185.35 1887.0,1186.40 Q1872.7,1187.45 1864.0,1187.68 Z" fill="#3b5ba8"/>
<path d="M1864.0,1190.76 Q1912.6,1191.02 1992.0,1192.20 Q1912.6,1193.38 1864.0,1193.64 Z" fill="#ecb0bc"/>
<line x1="1852.00" y1="1200.70" x2="2101.50" y2="1200.70" stroke="#1a1a1a" stroke-width="2.3" />
<line x1="1864.11" y1="1200.70" x2="1864.11" y2="1203.90" stroke="#1a1a1a" stroke-width="1.2" />
<text x="1866.04" y="1224.70" font-size="19.5" text-anchor="middle" fill="#1a1a1a">0.0</text>
<line x1="1911.21" y1="1200.70" x2="1911.21" y2="1203.90" stroke="#1a1a1a" stroke-width="1.2" />
<text x="1913.14" y="1224.70" font-size="19.5" text-anchor="middle" fill="#1a1a1a">2.5</text>
<line x1="1958.79" y1="1200.70" x2="1958.79" y2="1203.90" stroke="#1a1a1a" stroke-width="1.2" />
<text x="1960.72" y="1224.70" font-size="19.5" text-anchor="middle" fill="#1a1a1a">5.0</text>
<line x1="2005.41" y1="1200.70" x2="2005.41" y2="1203.90" stroke="#1a1a1a" stroke-width="1.2" />
<text x="2007.83" y="1224.70" font-size="19.5" text-anchor="middle" fill="#1a1a1a">7.5</text>
<line x1="2052.51" y1="1200.70" x2="2052.51" y2="1203.90" stroke="#1a1a1a" stroke-width="1.2" />
<text x="2056.14" y="1224.70" font-size="19.5" text-anchor="middle" fill="#1a1a1a">10.0</text>
<line x1="2099.61" y1="1200.70" x2="2099.61" y2="1203.90" stroke="#1a1a1a" stroke-width="1.2" />
<text x="2103.24" y="1224.70" font-size="19.5" text-anchor="middle" fill="#1a1a1a">12.5</text>
<text x="1833.20" y="1196.50" font-size="18.45" text-anchor="end" fill="#1a1a1a">rDel</text>
<line x1="1864.00" y1="1184.30" x2="1864.00" y2="1200.70" stroke="#111" stroke-width="2" />
<path d="M1864.0,1237.64 Q1900.3,1237.88 1959.5,1239.00 Q1900.3,1240.12 1864.0,1240.36 Z" fill="#3b5ba8"/>
<path d="M1864.0,1243.44 Q1896.7,1243.68 1950.0,1244.80 Q1896.7,1245.92 1864.0,1246.16 Z" fill="#ecb0bc"/>
<line x1="1852.00" y1="1253.30" x2="2101.50" y2="1253.30" stroke="#1a1a1a" stroke-width="2.3" />
<line x1="1864.11" y1="1253.30" x2="1864.11" y2="1256.50" stroke="#1a1a1a" stroke-width="1.2" />
<text x="1866.04" y="1277.30" font-size="19.5" text-anchor="middle" fill="#1a1a1a">0.0</text>
<line x1="1920.14" y1="1253.30" x2="1920.14" y2="1256.50" stroke="#1a1a1a" stroke-width="1.2" />
<text x="1922.56" y="1277.30" font-size="19.5" text-anchor="middle" fill="#1a1a1a">2.5</text>
<line x1="1976.91" y1="1253.30" x2="1976.91" y2="1256.50" stroke="#1a1a1a" stroke-width="1.2" />
<text x="1979.32" y="1277.30" font-size="19.5" text-anchor="middle" fill="#1a1a1a">5.0</text>
<line x1="2033.67" y1="1253.30" x2="2033.67" y2="1256.50" stroke="#1a1a1a" stroke-width="1.2" />
<text x="2036.33" y="1277.30" font-size="19.5" text-anchor="middle" fill="#1a1a1a">7.5</text>
<line x1="2089.95" y1="1253.30" x2="2089.95" y2="1256.50" stroke="#1a1a1a" stroke-width="1.2" />
<text x="2094.06" y="1277.30" font-size="19.5" text-anchor="middle" fill="#1a1a1a">10.0</text>
<text x="1833.20" y="1249.10" font-size="18.45" text-anchor="end" fill="#1a1a1a">rDelDup</text>
<line x1="1908.80" y1="1236.90" x2="1908.80" y2="1253.30" stroke="#111" stroke-width="2" />
<path d="M1864.0,1290.04 Q1890.6,1290.28 1934.0,1291.40 Q1890.6,1292.52 1864.0,1292.76 Z" fill="#3b5ba8"/>
<line x1="1852.00" y1="1305.70" x2="2101.50" y2="1305.70" stroke="#1a1a1a" stroke-width="2.3" />
<line x1="1864.11" y1="1305.70" x2="1864.11" y2="1308.90" stroke="#1a1a1a" stroke-width="1.2" />
<text x="1864.83" y="1329.70" font-size="19.5" text-anchor="middle" fill="#1a1a1a">0</text>
<line x1="1911.21" y1="1305.70" x2="1911.21" y2="1308.90" stroke="#1a1a1a" stroke-width="1.2" />
<text x="1911.93" y="1329.70" font-size="19.5" text-anchor="middle" fill="#1a1a1a">5</text>
<line x1="1958.79" y1="1305.70" x2="1958.79" y2="1308.90" stroke="#1a1a1a" stroke-width="1.2" />
<text x="1960.24" y="1329.70" font-size="19.5" text-anchor="middle" fill="#1a1a1a">10</text>
<line x1="2005.41" y1="1305.70" x2="2005.41" y2="1308.90" stroke="#1a1a1a" stroke-width="1.2" />
<text x="2007.83" y="1329.70" font-size="19.5" text-anchor="middle" fill="#1a1a1a">15</text>
<line x1="2052.51" y1="1305.70" x2="2052.51" y2="1308.90" stroke="#1a1a1a" stroke-width="1.2" />
<text x="2054.93" y="1329.70" font-size="19.5" text-anchor="middle" fill="#1a1a1a">20</text>
<line x1="2099.61" y1="1305.70" x2="2099.61" y2="1308.90" stroke="#1a1a1a" stroke-width="1.2" />
<text x="2101.30" y="1329.70" font-size="19.5" text-anchor="middle" fill="#1a1a1a">25</text>
<text x="1833.20" y="1301.50" font-size="18.45" text-anchor="end" fill="#1a1a1a">rDup</text>
<line x1="1967.20" y1="1289.30" x2="1967.20" y2="1305.70" stroke="#111" stroke-width="2" />
<path d="M1864.0,1343.24 Q1914.3,1343.48 1996.5,1344.60 Q1914.3,1345.72 1864.0,1345.96 Z" fill="#3b5ba8"/>
<path d="M1864.0,1349.72 Q1865.5,1349.84 1868.0,1350.40 Q1865.5,1350.96 1864.0,1351.08 Z" fill="#ecb0bc"/>
<line x1="1852.00" y1="1358.90" x2="2101.50" y2="1358.90" stroke="#1a1a1a" stroke-width="2.3" />
<line x1="1863.66" y1="1358.90" x2="1863.66" y2="1362.10" stroke="#1a1a1a" stroke-width="1.2" />
<text x="1864.42" y="1382.90" font-size="19.5" text-anchor="middle" fill="#1a1a1a">0</text>
<line x1="1923.11" y1="1358.90" x2="1923.11" y2="1362.10" stroke="#1a1a1a" stroke-width="1.2" />
<text x="1924.38" y="1382.90" font-size="19.5" text-anchor="middle" fill="#1a1a1a">30</text>
<line x1="1981.81" y1="1358.90" x2="1981.81" y2="1362.10" stroke="#1a1a1a" stroke-width="1.2" />
<text x="1983.83" y="1382.90" font-size="19.5" text-anchor="middle" fill="#1a1a1a">60</text>
<line x1="2040.75" y1="1358.90" x2="2040.75" y2="1362.10" stroke="#1a1a1a" stroke-width="1.2" />
<text x="2042.52" y="1382.90" font-size="19.5" text-anchor="middle" fill="#1a1a1a">90</text>
<line x1="2100.71" y1="1358.90" x2="2100.71" y2="1362.10" stroke="#1a1a1a" stroke-width="1.2" />
<text x="2102.74" y="1382.90" font-size="19.5" text-anchor="middle" fill="#1a1a1a">120</text>
<text x="1833.20" y="1354.70" font-size="18.45" text-anchor="end" fill="#1a1a1a">Dups 1–100Kbp</text>
<line x1="1997.20" y1="1342.50" x2="1997.20" y2="1358.90" stroke="#111" stroke-width="2" />
<path d="M1864.0,1397.83 Q1877.3,1398.05 1899.0,1399.10 Q1877.3,1400.15 1864.0,1400.38 Z" fill="#3b5ba8"/>
<path d="M1864.0,1403.54 Q1891.3,1403.78 1935.8,1404.90 Q1891.3,1406.02 1864.0,1406.26 Z" fill="#ecb0bc"/>
<line x1="1852.00" y1="1413.40" x2="2101.50" y2="1413.40" stroke="#1a1a1a" stroke-width="2.3" />
<line x1="1863.66" y1="1413.40" x2="1863.66" y2="1416.60" stroke="#1a1a1a" stroke-width="1.2" />
<text x="1864.42" y="1437.40" font-size="19.5" text-anchor="middle" fill="#1a1a1a">0</text>
<line x1="1938.29" y1="1413.40" x2="1938.29" y2="1416.60" stroke="#1a1a1a" stroke-width="1.2" />
<text x="1940.06" y="1437.40" font-size="19.5" text-anchor="middle" fill="#1a1a1a">2</text>
<line x1="2014.19" y1="1413.40" x2="2014.19" y2="1416.60" stroke="#1a1a1a" stroke-width="1.2" />
<text x="2015.45" y="1437.40" font-size="19.5" text-anchor="middle" fill="#1a1a1a">4</text>
<line x1="2089.33" y1="1413.40" x2="2089.33" y2="1416.60" stroke="#1a1a1a" stroke-width="1.2" />
<text x="2090.84" y="1437.40" font-size="19.5" text-anchor="middle" fill="#1a1a1a">6</text>
<text x="1833.20" y="1409.20" font-size="18.45" text-anchor="end" fill="#1a1a1a">ihDels</text>
<line x1="1863.70" y1="1397.00" x2="1863.70" y2="1413.40" stroke="#111" stroke-width="2" />
<path d="M1886.4,1453.30 C1910.4,1452.69 1931.0,1451.94 1955.0,1451.94 C1982.5,1451.94 1997.8,1452.69 2016.2,1453.30 C1997.8,1453.91 1982.5,1454.66 1955.0,1454.66 C1931.0,1454.66 1910.4,1453.91 1886.4,1453.30 Z" fill="#3b5ba8"/>
<path d="M1910.5,1459.10 C1927.1,1458.49 1941.4,1457.74 1958.0,1457.74 C1981.0,1457.74 1993.7,1458.49 2009.0,1459.10 C1993.7,1459.71 1981.0,1460.46 1958.0,1460.46 C1941.4,1460.46 1927.1,1459.71 1910.5,1459.10 Z" fill="#ecb0bc"/>
<path d="M1864.0,1463.18 Q1871.1,1463.36 1882.6,1464.20 Q1871.1,1465.04 1864.0,1465.22 Z" fill="#808080"/>
<line x1="1852.00" y1="1467.60" x2="2101.50" y2="1467.60" stroke="#1a1a1a" stroke-width="2.3" />
<line x1="1863.66" y1="1467.60" x2="1863.66" y2="1470.80" stroke="#1a1a1a" stroke-width="1.2" />
<text x="1864.42" y="1491.60" font-size="19.5" text-anchor="middle" fill="#1a1a1a">0</text>
<line x1="1930.20" y1="1467.60" x2="1930.20" y2="1470.80" stroke="#1a1a1a" stroke-width="1.2" />
<text x="1932.47" y="1491.60" font-size="19.5" text-anchor="middle" fill="#1a1a1a">10</text>
<line x1="1996.48" y1="1467.60" x2="1996.48" y2="1470.80" stroke="#1a1a1a" stroke-width="1.2" />
<text x="1998.50" y="1491.60" font-size="19.5" text-anchor="middle" fill="#1a1a1a">20</text>
<line x1="2063.02" y1="1467.60" x2="2063.02" y2="1470.80" stroke="#1a1a1a" stroke-width="1.2" />
<text x="2064.79" y="1491.60" font-size="19.5" text-anchor="middle" fill="#1a1a1a">30</text>
<text x="1833.20" y="1463.40" font-size="18.45" text-anchor="end" fill="#1a1a1a">HRD score (LOH)</text>
<line x1="2090.00" y1="1451.20" x2="2090.00" y2="1467.60" stroke="#111" stroke-width="2" />
<path d="M1864.0,1507.12 Q1887.4,1507.35 1925.6,1508.40 Q1887.4,1509.45 1864.0,1509.68 Z" fill="#3b5ba8"/>
<path d="M1864.0,1512.84 Q1897.1,1513.08 1951.0,1514.20 Q1897.1,1515.32 1864.0,1515.56 Z" fill="#ecb0bc"/>
<line x1="1852.00" y1="1522.70" x2="2101.50" y2="1522.70" stroke="#1a1a1a" stroke-width="2.3" />
<line x1="1863.66" y1="1522.70" x2="1863.66" y2="1525.90" stroke="#1a1a1a" stroke-width="1.2" />
<text x="1864.42" y="1546.70" font-size="19.5" text-anchor="middle" fill="#1a1a1a">0</text>
<line x1="1918.56" y1="1522.70" x2="1918.56" y2="1525.90" stroke="#1a1a1a" stroke-width="1.2" />
<text x="1920.58" y="1546.70" font-size="19.5" text-anchor="middle" fill="#1a1a1a">50</text>
<line x1="1973.71" y1="1522.70" x2="1973.71" y2="1525.90" stroke="#1a1a1a" stroke-width="1.2" />
<text x="1977.00" y="1546.70" font-size="19.5" text-anchor="middle" fill="#1a1a1a">100</text>
<line x1="2028.86" y1="1522.70" x2="2028.86" y2="1525.90" stroke="#1a1a1a" stroke-width="1.2" />
<text x="2031.90" y="1546.70" font-size="19.5" text-anchor="middle" fill="#1a1a1a">150</text>
<line x1="2083.76" y1="1522.70" x2="2083.76" y2="1525.90" stroke="#1a1a1a" stroke-width="1.2" />
<text x="2086.80" y="1546.70" font-size="19.5" text-anchor="middle" fill="#1a1a1a">200</text>
<text x="1833.20" y="1518.50" font-size="18.45" text-anchor="end" fill="#1a1a1a">RS5</text>
<line x1="1863.70" y1="1506.30" x2="1863.70" y2="1522.70" stroke="#111" stroke-width="2" />
<path d="M1864.0,1559.54 Q1889.8,1559.78 1932.0,1560.90 Q1889.8,1562.02 1864.0,1562.26 Z" fill="#3b5ba8"/>
<line x1="1852.00" y1="1575.20" x2="2101.50" y2="1575.20" stroke="#1a1a1a" stroke-width="2.3" />
<line x1="1863.66" y1="1575.20" x2="1863.66" y2="1578.40" stroke="#1a1a1a" stroke-width="1.2" />
<text x="1864.42" y="1599.20" font-size="19.5" text-anchor="middle" fill="#1a1a1a">0</text>
<line x1="1926.91" y1="1575.20" x2="1926.91" y2="1578.40" stroke="#1a1a1a" stroke-width="1.2" />
<text x="1930.20" y="1599.20" font-size="19.5" text-anchor="middle" fill="#1a1a1a">100</text>
<line x1="1990.15" y1="1575.20" x2="1990.15" y2="1578.40" stroke="#1a1a1a" stroke-width="1.2" />
<text x="1993.44" y="1599.20" font-size="19.5" text-anchor="middle" fill="#1a1a1a">200</text>
<line x1="2053.40" y1="1575.20" x2="2053.40" y2="1578.40" stroke="#1a1a1a" stroke-width="1.2" />
<text x="2057.20" y="1599.20" font-size="19.5" text-anchor="middle" fill="#1a1a1a">300</text>
<text x="1833.20" y="1571.00" font-size="18.45" text-anchor="end" fill="#1a1a1a">RS3</text>
<line x1="1947.10" y1="1558.80" x2="1947.10" y2="1575.20" stroke="#111" stroke-width="2" />
<path d="M1991.4,1613.50 C2008.4,1612.89 2023.0,1612.14 2040.0,1612.14 C2058.0,1612.14 2068.0,1612.89 2080.0,1613.50 C2068.0,1614.11 2058.0,1614.86 2040.0,1614.86 C2023.0,1614.86 2008.4,1614.11 1991.4,1613.50 Z" fill="#3b5ba8"/>
<path d="M1932.0,1613.50 C1935.5,1613.29 1938.5,1613.03 1942.0,1613.03 C1947.4,1613.03 1950.4,1613.29 1954.0,1613.50 C1950.4,1613.71 1947.4,1613.97 1942.0,1613.97 C1938.5,1613.97 1935.5,1613.71 1932.0,1613.50 Z" fill="#8a8a8a"/>
<path d="M2028.0,1619.30 C2038.5,1618.76 2047.5,1618.11 2058.0,1618.11 C2071.3,1618.11 2078.7,1618.76 2087.6,1619.30 C2078.7,1619.84 2071.3,1620.49 2058.0,1620.49 C2047.5,1620.49 2038.5,1619.84 2028.0,1619.30 Z" fill="#ecb0bc"/>
<path d="M1890.2,1624.40 C1902.4,1623.83 1912.8,1623.12 1925.0,1623.12 C1939.5,1623.12 1947.6,1623.83 1957.3,1624.40 C1947.6,1624.97 1939.5,1625.67 1925.0,1625.67 C1912.8,1625.67 1902.4,1624.97 1890.2,1624.40 Z" fill="#808080"/>
<line x1="1852.00" y1="1627.80" x2="2101.50" y2="1627.80" stroke="#1a1a1a" stroke-width="2.3" />
<line x1="1863.66" y1="1627.80" x2="1863.66" y2="1631.00" stroke="#1a1a1a" stroke-width="1.2" />
<text x="1865.68" y="1651.80" font-size="19.5" text-anchor="middle" fill="#1a1a1a">0.0</text>
<line x1="1938.29" y1="1627.80" x2="1938.29" y2="1631.00" stroke="#1a1a1a" stroke-width="1.2" />
<text x="1940.82" y="1651.80" font-size="19.5" text-anchor="middle" fill="#1a1a1a">0.2</text>
<line x1="2012.92" y1="1627.80" x2="2012.92" y2="1631.00" stroke="#1a1a1a" stroke-width="1.2" />
<text x="2015.45" y="1651.80" font-size="19.5" text-anchor="middle" fill="#1a1a1a">0.4</text>
<line x1="2087.56" y1="1627.80" x2="2087.56" y2="1631.00" stroke="#1a1a1a" stroke-width="1.2" />
<text x="2090.59" y="1651.80" font-size="19.5" text-anchor="middle" fill="#1a1a1a">0.6</text>
<text x="1833.20" y="1623.60" font-size="18.45" text-anchor="end" fill="#1a1a1a">mhDel proportion</text>
<line x1="2020.00" y1="1611.40" x2="2020.00" y2="1627.80" stroke="#111" stroke-width="2" />
<path d="M1864.0,1664.83 Q1886.0,1665.05 1921.8,1666.10 Q1886.0,1667.15 1864.0,1667.38 Z" fill="#3b5ba8"/>
<path d="M1864.0,1670.62 Q1882.6,1670.85 1913.0,1671.90 Q1882.6,1672.95 1864.0,1673.18 Z" fill="#ecb0bc"/>
<path d="M1864.0,1675.98 Q1870.1,1676.16 1880.0,1677.00 Q1870.1,1677.84 1864.0,1678.02 Z" fill="#808080"/>
<line x1="1852.00" y1="1680.40" x2="2101.50" y2="1680.40" stroke="#1a1a1a" stroke-width="2.3" />
<line x1="1863.66" y1="1680.40" x2="1863.66" y2="1683.60" stroke="#1a1a1a" stroke-width="1.2" />
<text x="1864.42" y="1704.40" font-size="19.5" text-anchor="middle" fill="#1a1a1a">0</text>
<line x1="1947.15" y1="1680.40" x2="1947.15" y2="1683.60" stroke="#1a1a1a" stroke-width="1.2" />
<text x="1950.94" y="1704.40" font-size="19.5" text-anchor="middle" fill="#1a1a1a">5000</text>
<line x1="2030.63" y1="1680.40" x2="2030.63" y2="1683.60" stroke="#1a1a1a" stroke-width="1.2" />
<text x="2035.69" y="1704.40" font-size="19.5" text-anchor="middle" fill="#1a1a1a">10000</text>
<text x="1833.20" y="1676.20" font-size="18.45" text-anchor="end" fill="#1a1a1a">SNV8</text>
<line x1="1940.80" y1="1664.00" x2="1940.80" y2="1680.40" stroke="#111" stroke-width="2" />
<path d="M1864.0,1717.73 C1892.0,1717.73 1897.6,1717.16 1920.0,1717.16 C1948.3,1717.16 1964.1,1717.95 1983.0,1718.60 C1964.1,1719.25 1948.3,1720.05 1920.0,1720.05 C1897.6,1720.05 1892.0,1719.47 1864.0,1719.47 Z" fill="#3b5ba8"/>
<path d="M1864.0,1723.53 C1892.0,1723.53 1897.6,1722.96 1920.0,1722.96 C1948.3,1722.96 1964.1,1723.75 1983.0,1724.40 C1964.1,1725.05 1948.3,1725.85 1920.0,1725.85 C1897.6,1725.85 1892.0,1725.27 1864.0,1725.27 Z" fill="#ecb0bc"/>
<line x1="1852.00" y1="1732.90" x2="2101.50" y2="1732.90" stroke="#1a1a1a" stroke-width="2.3" />
<line x1="1863.66" y1="1732.90" x2="1863.66" y2="1736.10" stroke="#1a1a1a" stroke-width="1.2" />
<text x="1864.42" y="1751.70" font-size="19.5" text-anchor="middle" fill="#1a1a1a">0</text>
<line x1="1923.87" y1="1732.90" x2="1923.87" y2="1736.10" stroke="#1a1a1a" stroke-width="1.2" />
<text x="1927.41" y="1751.70" font-size="19.5" text-anchor="middle" fill="#1a1a1a">3000</text>
<line x1="1983.83" y1="1732.90" x2="1983.83" y2="1736.10" stroke="#1a1a1a" stroke-width="1.2" />
<text x="1987.12" y="1751.70" font-size="19.5" text-anchor="middle" fill="#1a1a1a">6000</text>
<line x1="2044.55" y1="1732.90" x2="2044.55" y2="1736.10" stroke="#1a1a1a" stroke-width="1.2" />
<text x="2047.08" y="1751.70" font-size="19.5" text-anchor="middle" fill="#1a1a1a">9000</text>
<text x="1833.20" y="1728.70" font-size="18.45" text-anchor="end" fill="#1a1a1a">SNV3</text>
<line x1="1943.90" y1="1716.50" x2="1943.90" y2="1732.90" stroke="#111" stroke-width="2" />
<g transform="translate(108,478) scale(0.15047)">
<g clip-path="url(#cc1)">
<g filter="url(#cn1)">
<rect x="67" y="62" width="1963" height="1275" fill="#050606"/>
<g filter="url(#cb1)">
<ellipse cx="1020" cy="650" rx="985" ry="985" fill="#1d2022"/>
<path d="M430,1400 C213,1350 326,1200 300,1100 C274,1000 267,890 272,800 C277,710 289,642 330,560 C371,478 455,371 520,310 C585,249 647,222 720,195 C793,168 905,154 960,150 C1015,146 1018,171 1050,168 C1082,165 1092,139 1150,130 C1208,121 1322,105 1400,112 C1478,119 1563,137 1620,170 C1677,203 1697,268 1740,310 C1783,352 1839,363 1880,420 C1921,477 1969,570 1985,650 C2001,730 1992,820 1975,900 C1958,980 1922,1063 1880,1130 C1838,1197 1767,1255 1720,1300 C1673,1345 1815,1383 1600,1400 C1385,1417 647,1450 430,1400Z" fill="#c9cdd0"/>
<path d="M560,1000 C527,927 500,840 500,760 C500,680 527,592 560,520 C593,448 635,372 700,330 C765,288 867,283 950,270 C1033,257 1117,252 1200,250 C1283,248 1383,235 1450,260 C1517,285 1562,335 1600,400 C1638,465 1668,567 1680,650 C1692,733 1687,820 1670,900 C1653,980 1625,1078 1580,1130 C1535,1182 1472,1207 1400,1210 C1328,1213 1233,1143 1150,1150 C1067,1157 975,1242 900,1250 C825,1258 757,1242 700,1200 C643,1158 593,1073 560,1000Z" fill="none" stroke="#dfe2e4" stroke-width="40" opacity="0.9"/>
<path d="M690,350 C730,332 798,327 850,330 C902,333 990,342 1000,370 C1010,398 933,455 910,500 C887,545 855,585 860,640 C865,695 905,787 940,830 C975,873 1053,870 1070,900 C1087,930 1047,968 1040,1010 C1033,1052 1053,1113 1030,1150 C1007,1187 947,1222 900,1230 C853,1238 798,1237 750,1200 C702,1163 644,1077 610,1010 C576,943 553,868 545,800 C537,732 549,660 560,600 C571,540 588,482 610,440 C632,398 650,368 690,350Z" fill="#2b3034"/>
<path d="M1200,295 C1198,272 1285,264 1330,270 C1375,276 1428,295 1470,330 C1512,365 1552,422 1580,480 C1608,538 1628,610 1640,680 C1652,750 1662,828 1650,900 C1638,972 1607,1065 1570,1110 C1533,1155 1473,1170 1430,1170 C1387,1170 1327,1138 1310,1110 C1293,1082 1325,1035 1330,1000 C1335,965 1340,928 1340,900 C1340,872 1317,863 1330,830 C1343,797 1405,742 1420,700 C1435,658 1433,628 1420,580 C1407,532 1377,458 1340,410 C1303,362 1202,318 1200,295Z" fill="#2b3034"/>
</g>
<g filter="url(#cx1)">
<ellipse cx="1150" cy="640" rx="230" ry="250" fill="#e6e8e9"/>
<ellipse cx="1090" cy="690" rx="90" ry="90" fill="#f2f3f3"/>
</g>
<g filter="url(#cb1)">
<ellipse cx="1120" cy="1000" rx="95" ry="80" fill="#f3f4f4"/>
<ellipse cx="1150" cy="1130" rx="90" ry="80" fill="#eceded"/>
<ellipse cx="1150" cy="1140" rx="35" ry="35" fill="#c4c6c8"/>
<ellipse cx="1300" cy="990" rx="55" ry="58" fill="#eceded"/>
<ellipse cx="850" cy="900" rx="60" ry="35" fill="#e8e9ea" transform="rotate(25 850 900)"/>
<ellipse cx="1390" cy="870" rx="40" ry="30" fill="#e8e9ea"/>
<ellipse cx="1050" cy="290" rx="70" ry="25" fill="#eeeeee"/>
</g>
<g filter="url(#cs1)">
<path d="M800,880 C783,863 727,810 700,780 C673,750 650,713 640,700" fill="none" stroke="#7a8084" stroke-width="9" stroke-linecap="round" opacity="0.8"/>
<path d="M830,920 C812,927 750,947 720,960 C690,973 662,993 650,1000" fill="none" stroke="#7a8084" stroke-width="9" stroke-linecap="round" opacity="0.8"/>
<path d="M880,960 C875,980 858,1047 850,1080 C842,1113 833,1147 830,1160" fill="none" stroke="#7a8084" stroke-width="9" stroke-linecap="round" opacity="0.8"/>
<path d="M780,480 L830,400" fill="none" stroke="#7a8084" stroke-width="9" stroke-linecap="round" opacity="0.8"/>
<path d="M700,560 L760,470" fill="none" stroke="#7a8084" stroke-width="9" stroke-linecap="round" opacity="0.8"/>
<path d="M1430,860 C1442,850 1478,812 1500,800 C1522,788 1550,792 1560,790" fill="none" stroke="#7a8084" stroke-width="9" stroke-linecap="round" opacity="0.8"/>
<path d="M1420,900 C1433,908 1480,930 1500,950 C1520,970 1533,1008 1540,1020" fill="none" stroke="#7a8084" stroke-width="9" stroke-linecap="round" opacity="0.8"/>
<path d="M1460,560 L1500,480" fill="none" stroke="#7a8084" stroke-width="9" stroke-linecap="round" opacity="0.8"/>
<path d="M205,660 L525,762" fill="none" stroke="#a6b545" stroke-width="8" stroke-linecap="round"/>
</g>
</g>
<path d="M75,85 L322,85 L198.5,302 Z" fill="#2f63ad"/>
</g></g>
<text x="137.87" y="510.28" font-size="20.0" text-anchor="middle" fill="#fff">1</text>
<g transform="translate(108,674) scale(0.15047)">
<g clip-path="url(#cc2)">
<g filter="url(#cn2)">
<rect x="67" y="50" width="1963" height="1287" fill="#1c1e20"/>
<g filter="url(#cb2)">
<path d="M400,20 C463,-12 600,-43 700,-60 C800,-77 883,-80 1000,-80 C1117,-80 1290,-77 1400,-60 C1510,-43 1593,-13 1660,20 C1727,53 1757,93 1800,140 C1843,187 1878,223 1920,300 C1962,377 2027,483 2050,600 C2073,717 2085,912 2060,1000 C2035,1088 1960,1092 1900,1130 C1840,1168 1783,1200 1700,1230 C1617,1260 1517,1291 1400,1310 C1283,1329 1130,1348 1000,1345 C870,1342 732,1324 620,1290 C508,1256 413,1178 330,1140 C247,1102 167,1100 120,1060 C73,1020 58,970 50,900 C42,830 58,717 75,640 C92,563 122,502 150,440 C178,378 212,322 240,270 C268,218 293,172 320,130 C347,88 337,52 400,20Z" fill="#c5c9cc"/>
<path d="M67,1090 C93,1065 275,1129 330,1150 C385,1171 553,1280 620,1300 C687,1320 922,1353 1000,1355 C1078,1357 1330,1332 1400,1320 C1470,1308 1637,1263 1700,1240 C1763,1217 1997,1074 2030,1090 C2063,1106 2226,1369 2030,1400 C1834,1431 263,1431 67,1400 C-129,1369 41,1115 67,1090Z" fill="#121314"/>
<path d="M80,1120 C133,1142 297,1214 400,1250 C503,1286 650,1322 700,1337" fill="none" stroke="#6c7072" stroke-width="9" stroke-linecap="round"/>
<path d="M2020,1120 C1975,1143 1837,1224 1750,1260 C1663,1296 1542,1324 1500,1337" fill="none" stroke="#6c7072" stroke-width="9" stroke-linecap="round"/>
<path d="M100,1230 C133,1242 242,1282 300,1300 C358,1318 425,1331 450,1337" fill="none" stroke="#3c4042" stroke-width="22" stroke-linecap="round"/>
<path d="M2000,1230 C1967,1242 1858,1282 1800,1300 C1742,1318 1675,1331 1650,1337" fill="none" stroke="#3c4042" stroke-width="22" stroke-linecap="round"/>
<path d="M470,880 C428,802 397,707 390,620 C383,533 405,438 430,360 C455,282 495,203 540,150 C585,97 573,58 700,40 C827,22 1163,20 1300,40 C1437,60 1462,100 1520,160 C1578,220 1622,310 1650,400 C1678,490 1695,617 1690,700 C1685,783 1655,843 1620,900 C1585,957 1527,998 1480,1040 C1433,1082 1390,1133 1340,1150 C1290,1167 1237,1148 1180,1140 C1123,1132 1053,1107 1000,1100 C947,1093 920,1102 860,1100 C800,1098 705,1127 640,1090 C575,1053 512,958 470,880Z" fill="none" stroke="#dde0e2" stroke-width="42" opacity="0.9"/>
<path d="M640,68 C703,53 838,65 900,75 C962,85 1009,92 1015,130 C1021,168 962,247 935,300 C908,353 869,397 855,450 C841,503 832,572 850,620 C868,668 951,710 960,740 C969,770 921,765 905,800 C889,835 872,910 865,950 C858,990 879,1018 860,1040 C841,1062 793,1078 750,1080 C707,1082 647,1088 600,1050 C553,1012 505,923 470,850 C435,777 397,692 390,610 C383,528 408,434 430,360 C452,286 485,214 520,165 C555,116 577,83 640,68Z" fill="#2a2f33"/>
<path d="M1230,110 C1238,91 1347,73 1400,88 C1453,103 1510,148 1550,200 C1590,252 1622,346 1640,400 C1658,454 1668,501 1655,525 C1642,549 1588,546 1560,545 C1532,544 1503,552 1485,520 C1467,488 1472,403 1450,350 C1428,297 1387,240 1350,200 C1313,160 1222,129 1230,110Z" fill="#2a2f33"/>
<path d="M1330,720 C1366,688 1402,628 1450,605 C1498,582 1585,564 1620,580 C1655,596 1662,653 1662,700 C1662,747 1647,808 1620,860 C1593,912 1545,966 1500,1010 C1455,1054 1400,1108 1350,1125 C1300,1142 1233,1129 1200,1110 C1167,1091 1142,1045 1150,1010 C1158,975 1236,935 1250,900 C1264,865 1222,830 1235,800 C1248,770 1294,752 1330,720Z" fill="#2a2f33"/>
</g>
<g filter="url(#cx2)">
<ellipse cx="1150" cy="470" rx="250" ry="300" fill="#d6d9db"/>
</g>
<g filter="url(#cb2)">
<ellipse cx="975" cy="860" rx="95" ry="85" fill="#f1f2f2"/>
<ellipse cx="990" cy="1020" rx="85" ry="75" fill="#e9eaea"/>
<ellipse cx="990" cy="1020" rx="38" ry="38" fill="#b9bcbe"/>
<ellipse cx="1180" cy="880" rx="62" ry="70" fill="#cfd2d4"/>
<ellipse cx="740" cy="660" rx="45" ry="50" fill="#e4e6e7"/>
<ellipse cx="800" cy="655" rx="28" ry="28" fill="#dcdedf"/>
<ellipse cx="1330" cy="810" rx="40" ry="35" fill="#e0e2e3"/>
<ellipse cx="390" cy="480" rx="16" ry="70" fill="#e9ebec"/>
<ellipse cx="385" cy="780" rx="16" ry="60" fill="#e9ebec" transform="rotate(-5 385 780)"/>
<ellipse cx="1690" cy="640" rx="16" ry="90" fill="#e3e5e6"/>
</g>
<g filter="url(#cs2)">
<path d="M700,640 C683,637 627,617 600,620 C573,623 550,653 540,660" fill="none" stroke="#8a9094" stroke-width="11" stroke-linecap="round" opacity="0.85"/>
<path d="M720,690 L640,720" fill="none" stroke="#8a9094" stroke-width="11" stroke-linecap="round" opacity="0.85"/>
<path d="M740,720 C733,733 710,780 700,800 C690,820 683,833 680,840" fill="none" stroke="#8a9094" stroke-width="11" stroke-linecap="round" opacity="0.85"/>
<path d="M780,730 C777,755 773,838 760,880 C747,922 710,963 700,980" fill="none" stroke="#8a9094" stroke-width="11" stroke-linecap="round" opacity="0.85"/>
<path d="M760,420 C755,403 733,348 730,320 C727,292 738,262 740,250" fill="none" stroke="#8a9094" stroke-width="11" stroke-linecap="round" opacity="0.85"/>
<path d="M680,380 C667,368 623,323 600,310 C577,297 550,302 540,300" fill="none" stroke="#8a9094" stroke-width="11" stroke-linecap="round" opacity="0.85"/>
<path d="M830,330 L820,200" fill="none" stroke="#8a9094" stroke-width="11" stroke-linecap="round" opacity="0.85"/>
<path d="M1380,760 L1440,700" fill="none" stroke="#8a9094" stroke-width="11" stroke-linecap="round" opacity="0.85"/>
<path d="M1400,800 C1413,803 1463,808 1480,820 C1497,832 1497,862 1500,870" fill="none" stroke="#8a9094" stroke-width="11" stroke-linecap="round" opacity="0.85"/>
<path d="M1560,360 L1500,240" fill="none" stroke="#8a9094" stroke-width="11" stroke-linecap="round" opacity="0.85"/>
<path d="M1600,430 L1520,400" fill="none" stroke="#8a9094" stroke-width="11" stroke-linecap="round" opacity="0.85"/>
</g>
<rect x="1650" y="50" width="366" height="82" fill="#040404"/>
<rect x="1670" y="1262" width="300" height="16" fill="#2a7f96" opacity="0.7"/>
<rect x="1840" y="1292" width="140" height="16" fill="#2a7f96" opacity="0.6"/>
<rect x="85" y="1268" width="130" height="14" fill="#8a8f92" opacity="0.7"/>
<rect x="85" y="1296" width="140" height="14" fill="#8a8f92" opacity="0.6"/>
<circle cx="150" cy="1225" r="26" fill="none" stroke="#c9cccd" stroke-width="12"/>
</g>
<path d="M70,55 L312,55 L191.0,292 Z" fill="#2f63ad"/>
</g></g>
<text x="136.74" y="703.45" font-size="20.0" text-anchor="middle" fill="#fff">2</text>
<g transform="translate(108,872) scale(0.15047)">
<g clip-path="url(#cc3)">
<g filter="url(#cn3)">
<rect x="67" y="45" width="1966" height="1360" fill="#040404"/>
<g filter="url(#cb3)">
<path d="M130,760 C138,655 155,515 200,420 C245,325 317,246 400,190 C483,134 592,106 700,85 C808,64 917,62 1050,65 C1183,68 1375,68 1500,100 C1625,132 1725,190 1800,260 C1875,330 1919,430 1950,520 C1981,610 1985,703 1985,800 C1985,897 1981,1012 1950,1100 C1919,1188 1875,1263 1800,1330 C1725,1397 1700,1472 1500,1500 C1300,1528 803,1528 600,1500 C397,1472 355,1405 280,1330 C205,1255 175,1145 150,1050 C125,955 122,865 130,760Z" fill="none" stroke="#555555" stroke-width="10"/>
<path d="M240,760 C247,665 260,557 300,480 C340,403 403,348 480,300 C557,252 660,215 760,190 C860,165 965,150 1080,150 C1195,150 1343,160 1450,190 C1557,220 1652,268 1720,330 C1788,392 1832,478 1860,560 C1888,642 1892,730 1890,820 C1888,910 1882,1020 1850,1100 C1818,1180 1767,1247 1700,1300 C1633,1353 1625,1400 1450,1420 C1275,1440 828,1440 650,1420 C472,1400 445,1362 380,1300 C315,1238 283,1140 260,1050 C237,960 233,855 240,760Z" fill="none" stroke="#303030" stroke-width="50"/>
<path d="M330,560 C363,518 428,437 480,400 C532,363 592,346 640,340 C688,334 730,342 770,365 C810,388 848,448 880,480 C912,512 940,533 960,560 C980,587 1013,617 1000,640 C987,663 910,673 880,700 C850,727 833,758 820,800 C807,842 817,892 800,950 C783,1008 747,1087 720,1150 C693,1213 670,1298 640,1330 C610,1362 583,1358 540,1345 C497,1332 423,1299 380,1250 C337,1201 300,1125 280,1050 C260,975 258,867 258,800 C258,733 268,690 280,650 C292,610 297,602 330,560Z" fill="#898989"/>
<path d="M1740,790 C1760,798 1792,848 1800,900 C1808,952 1807,1037 1790,1100 C1773,1163 1738,1235 1700,1280 C1662,1325 1607,1358 1560,1370 C1513,1382 1440,1387 1420,1350 C1400,1313 1423,1200 1440,1150 C1457,1100 1487,1082 1520,1050 C1553,1018 1613,993 1640,960 C1667,927 1663,878 1680,850 C1697,822 1720,782 1740,790Z" fill="#858585"/>
<path d="M1100,620 C1137,617 1242,642 1300,680 C1358,718 1410,797 1450,850 C1490,903 1538,969 1540,1000 C1542,1031 1500,1055 1460,1035 C1420,1015 1352,924 1300,880 C1248,836 1187,800 1150,770 C1113,740 1088,725 1080,700 C1072,675 1063,623 1100,620Z" fill="#7a7a7a"/>
<ellipse cx="960" cy="480" rx="70" ry="55" fill="#7e7e7e" transform="rotate(-30 960 480)"/>
<ellipse cx="900" cy="830" rx="80" ry="70" fill="#6e6e6e"/>
<ellipse cx="1080" cy="990" rx="72" ry="80" fill="#777777"/>
<ellipse cx="1540" cy="440" rx="70" ry="80" fill="#4a4a4a"/>
<ellipse cx="1560" cy="720" rx="70" ry="80" fill="#484848"/>
<ellipse cx="1130" cy="720" rx="40" ry="60" fill="#6a6a6a"/>
<path d="M650,1420 C612,1400 758,1355 800,1340 C842,1325 862,1323 900,1330 C938,1337 987,1380 1030,1380 C1073,1380 1122,1337 1160,1330 C1198,1323 1217,1325 1260,1340 C1303,1355 1458,1400 1420,1420 C1382,1440 1158,1460 1030,1460 C902,1460 688,1440 650,1420Z" fill="#5c5c5c"/>
<path d="M900,1330 C901,1300 895,1205 905,1150 C915,1095 934,1042 960,1000 C986,958 1043,917 1060,900" fill="none" stroke="#5e5e5e" stroke-width="14" stroke-linecap="round"/>
<path d="M1170,1330 C1172,1300 1182,1205 1180,1150 C1178,1095 1172,1042 1160,1000 C1148,958 1118,917 1110,900" fill="none" stroke="#5e5e5e" stroke-width="14" stroke-linecap="round"/>
<ellipse cx="1030" cy="1180.6" rx="130.0" ry="99.0" fill="#8e8e8e" stroke="#ededed" stroke-width="19.5"/>
<path d="M913,1240 C886,1246 870,1283 868,1306 C865,1329 883,1372 900,1379 C917,1385 950,1339 972,1346 C993,1352 1010,1418 1030,1418 C1050,1418 1067,1352 1088,1346 C1110,1339 1143,1385 1160,1379 C1177,1372 1195,1329 1192,1306 C1190,1283 1174,1246 1147,1240 C1120,1234 1069,1270 1030,1270 C991,1270 940,1234 913,1240Z" fill="#ededed"/>
<ellipse cx="1030" cy="1306.0" rx="55.25" ry="44.2" fill="#4a4a4a"/>
<path d="M660,760 C683,753 750,740 800,720 C850,700 913,667 960,640 C1007,613 1060,573 1080,560" fill="none" stroke="#1a1a1a" stroke-width="26" stroke-linecap="round"/>
<ellipse cx="255" cy="740" rx="14" ry="55" fill="#ededed"/>
<ellipse cx="300" cy="1130" rx="14" ry="60" fill="#ededed" transform="rotate(-35 300 1130)"/>
<ellipse cx="610" cy="1380" rx="50" ry="14" fill="#ededed" transform="rotate(10 610 1380)"/>
<ellipse cx="1840" cy="600" rx="14" ry="50" fill="#ededed" transform="rotate(-8 1840 600)"/>
<ellipse cx="1850" cy="940" rx="14" ry="50" fill="#ededed" transform="rotate(5 1850 940)"/>
<ellipse cx="1700" cy="1260" rx="14" ry="60" fill="#ededed" transform="rotate(40 1700 1260)"/>
<ellipse cx="470" cy="330" rx="40" ry="14" fill="#ededed" transform="rotate(-35 470 330)"/>
<ellipse cx="1600" cy="270" rx="50" ry="14" fill="#ededed" transform="rotate(30 1600 270)"/>
<ellipse cx="1400" cy="1400" rx="50" ry="12" fill="#ededed" transform="rotate(-10 1400 1400)"/>
</g>
<g filter="url(#cs3)">
<path d="M680,660 L820,590" fill="none" stroke="#3f63c6" stroke-width="14" stroke-linecap="round"/>
<path d="M760,540 L810,680" fill="none" stroke="#3f63c6" stroke-width="14" stroke-linecap="round"/>
<path d="M760,520 L850,560" fill="none" stroke="#3f63c6" stroke-width="12" stroke-linecap="round"/>
<path d="M900,545 L950,545" fill="none" stroke="#3f63c6" stroke-width="16" stroke-linecap="round"/>
<path d="M545,470 L560,490" fill="none" stroke="#3f63c6" stroke-width="12" stroke-linecap="round"/>
<path d="M610,555 L660,535" fill="none" stroke="#d8d44a" stroke-width="8" stroke-linecap="round"/>
<path d="M600,480 L780,490" fill="none" stroke="#c9c64e" stroke-width="7" stroke-linecap="round" opacity="0.7"/>
</g>
</g>
<path d="M75,80 L322,80 L198.5,300 Z" fill="#2f63ad"/>
</g></g>
<text x="137.87" y="903.78" font-size="20.0" text-anchor="middle" fill="#fff">3</text>
<g transform="translate(108,1082) scale(0.15047)">
<g clip-path="url(#cc4)">
<g filter="url(#cn4)">
<rect x="67" y="40" width="1966" height="1392" fill="#040404"/>
<g filter="url(#cb4)">
<path d="M150,760 C152,647 152,527 190,420 C228,313 295,197 380,120 C465,43 530,-13 700,-40 C870,-67 1220,-63 1400,-40 C1580,-17 1683,23 1780,100 C1877,177 1942,303 1980,420 C2018,537 2015,678 2010,800 C2005,922 1993,1050 1950,1150 C1907,1250 1842,1342 1750,1400 C1658,1458 1575,1483 1400,1500 C1225,1517 875,1520 700,1500 C525,1480 437,1447 350,1380 C263,1313 213,1203 180,1100 C147,997 148,873 150,760Z" fill="none" stroke="#323232" stroke-width="70"/>
<path d="M200,750 C207,667 227,557 260,480 C293,403 347,337 400,290 C453,243 527,212 580,200 C633,188 675,200 720,220 C765,240 812,290 850,320 C888,350 927,367 950,400 C973,433 972,487 990,520 C1008,553 1047,570 1060,600 C1073,630 1080,663 1070,700 C1060,737 1028,792 1000,820 C972,848 923,867 900,870 C877,873 868,818 860,840 C852,862 852,940 850,1000 C848,1060 862,1145 850,1200 C838,1255 813,1302 780,1330 C747,1358 700,1370 650,1370 C600,1370 535,1362 480,1330 C425,1298 363,1238 320,1180 C277,1122 240,1052 220,980 C200,908 193,833 200,750Z" fill="#8f8f8f"/>
<path d="M1880,720 C1905,728 1927,787 1930,850 C1933,913 1922,1030 1900,1100 C1878,1170 1842,1227 1800,1270 C1758,1313 1697,1348 1650,1360 C1603,1372 1547,1367 1520,1340 C1493,1313 1493,1242 1490,1200 C1487,1158 1478,1115 1500,1090 C1522,1065 1587,1073 1620,1050 C1653,1027 1673,992 1700,950 C1727,908 1750,838 1780,800 C1810,762 1855,712 1880,720Z" fill="#9a9a9a"/>
</g>
<g filter="url(#cx4)">
<ellipse cx="1420" cy="470" rx="120" ry="130" fill="#8a8a8a"/>
</g>
<g filter="url(#cb4)">
<ellipse cx="1680" cy="330" rx="65" ry="70" fill="#a8a8a8"/>
<ellipse cx="1730" cy="470" rx="55" ry="65" fill="#a4a4a4"/>
<ellipse cx="1660" cy="240" rx="40" ry="30" fill="#c8c8c8"/>
<ellipse cx="1095" cy="960" rx="72" ry="72" fill="#f2f2f2"/>
<ellipse cx="870" cy="615" rx="32" ry="32" fill="#dcdcdc"/>
<ellipse cx="1210" cy="575" rx="55" ry="22" fill="#b5b5b5" transform="rotate(-40 1210 575)"/>
<ellipse cx="1300" cy="670" rx="70" ry="24" fill="#b0b0b0" transform="rotate(-40 1300 670)"/>
<ellipse cx="1470" cy="810" rx="50" ry="40" fill="#b8b8b8"/>
<ellipse cx="1580" cy="960" rx="80" ry="28" fill="#cfcfcf" transform="rotate(-20 1580 960)"/>
<ellipse cx="1630" cy="840" rx="90" ry="16" fill="#9a9a9a" transform="rotate(-40 1630 840)"/>
<path d="M700,1440 C662,1425 817,1397 860,1380 C903,1363 922,1337 960,1340 C998,1343 1047,1400 1090,1400 C1133,1400 1180,1343 1220,1340 C1260,1337 1287,1363 1330,1380 C1373,1397 1520,1425 1480,1440 C1440,1455 1220,1470 1090,1470 C960,1470 738,1455 700,1440Z" fill="#565656"/>
<ellipse cx="1085" cy="1188.8" rx="135.0" ry="102.0" fill="#8c8c8c" stroke="#ededed" stroke-width="20.25"/>
<path d="M964,1250 C935,1256 918,1294 916,1318 C914,1342 932,1386 950,1393 C968,1400 1002,1352 1024,1359 C1047,1366 1065,1434 1085,1434 C1105,1434 1123,1366 1146,1359 C1168,1352 1202,1400 1220,1393 C1238,1386 1256,1342 1254,1318 C1252,1294 1235,1256 1206,1250 C1178,1244 1126,1281 1085,1281 C1044,1281 992,1244 964,1250Z" fill="#ededed"/>
<ellipse cx="1085" cy="1318.0" rx="57.37500000000001" ry="45.900000000000006" fill="#4a4a4a"/>
<ellipse cx="1150" cy="1230" rx="24" ry="24" fill="#f0f0f0"/>
<path d="M900,1330 C900,1292 890,1163 900,1100 C910,1037 937,987 960,950 C983,913 1027,892 1040,880" fill="none" stroke="#6a6a6a" stroke-width="16" stroke-linecap="round"/>
<path d="M1280,1330 C1277,1292 1273,1163 1260,1100 C1247,1037 1218,987 1200,950 C1182,913 1158,892 1150,880" fill="none" stroke="#6a6a6a" stroke-width="16" stroke-linecap="round"/>
<ellipse cx="185" cy="580" rx="14" ry="60" fill="#f0f0f0" transform="rotate(5 185 580)"/>
<ellipse cx="245" cy="1040" rx="14" ry="70" fill="#f0f0f0" transform="rotate(-25 245 1040)"/>
<ellipse cx="500" cy="1395" rx="60" ry="14" fill="#f0f0f0" transform="rotate(20 500 1395)"/>
<ellipse cx="1960" cy="470" rx="14" ry="50" fill="#f0f0f0" transform="rotate(-10 1960 470)"/>
<ellipse cx="1985" cy="900" rx="14" ry="70" fill="#f0f0f0" transform="rotate(8 1985 900)"/>
<ellipse cx="1750" cy="1345" rx="14" ry="70" fill="#f0f0f0" transform="rotate(50 1750 1345)"/>
<ellipse cx="470" cy="65" rx="80" ry="14" fill="#f0f0f0" transform="rotate(-20 470 65)"/>
<ellipse cx="1750" cy="90" rx="80" ry="14" fill="#f0f0f0" transform="rotate(25 1750 90)"/>
<ellipse cx="1330" cy="1395" rx="60" ry="12" fill="#f0f0f0" transform="rotate(25 1330 1395)"/>
<ellipse cx="860" cy="1395" rx="50" ry="12" fill="#f0f0f0" transform="rotate(-25 860 1395)"/>
</g>
<g filter="url(#cs4)">
<ellipse cx="530" cy="665" rx="22" ry="14" fill="#b0b0b0"/>
<ellipse cx="620" cy="760" rx="22" ry="14" fill="#b0b0b0"/>
<ellipse cx="660" cy="880" rx="22" ry="14" fill="#b0b0b0"/>
<ellipse cx="640" cy="1020" rx="22" ry="14" fill="#b0b0b0"/>
<ellipse cx="700" cy="1160" rx="22" ry="14" fill="#b0b0b0"/>
<ellipse cx="500" cy="960" rx="22" ry="14" fill="#b0b0b0"/>
<path d="M460,580 C473,575 515,554 540,550 C565,546 598,554 610,555" fill="none" stroke="#a8a8a8" stroke-width="10" stroke-linecap="round"/>
<path d="M770,540 L980,500" fill="none" stroke="#2d55c8" stroke-width="14" stroke-linecap="round"/>
<path d="M800,480 L980,480" fill="none" stroke="#2d55c8" stroke-width="12" stroke-linecap="round"/>
<path d="M740,440 L900,435" fill="none" stroke="#c7c548" stroke-width="10" stroke-linecap="round" opacity="0.8"/>
<path d="M840,470 L845,560" fill="none" stroke="#d0ce50" stroke-width="7" stroke-linecap="round"/>
</g>
</g>
<path d="M82,75 L322,75 L202.0,300 Z" fill="#2f63ad"/>
</g></g>
<text x="138.39" y="1113.15" font-size="20.0" text-anchor="middle" fill="#fff">4</text>
<g transform="translate(1353,570) scale(0.13113)">
<g clip-path="url(#cc5)">
<g filter="url(#cn5)">
<rect x="78" y="75" width="1784" height="1585" fill="#050505"/>
<g filter="url(#cb5)">
<path d="M240,800 C245,717 257,590 300,500 C343,410 423,320 500,260 C577,200 677,164 760,140 C843,116 910,113 1000,115 C1090,117 1213,119 1300,150 C1387,181 1458,233 1520,300 C1582,367 1640,467 1670,550 C1700,633 1705,708 1700,800 C1695,892 1682,1012 1640,1100 C1598,1188 1523,1275 1450,1330 C1377,1385 1283,1410 1200,1430 C1117,1450 1042,1455 950,1450 C858,1445 742,1438 650,1400 C558,1362 463,1287 400,1220 C337,1153 297,1070 270,1000 C243,930 235,883 240,800Z" fill="none" stroke="#6e6e6e" stroke-width="12"/>
<path d="M310,800 C317,727 332,617 370,540 C408,463 472,393 540,340 C608,287 703,244 780,220 C857,196 918,193 1000,195 C1082,197 1193,202 1270,230 C1347,258 1407,302 1460,360 C1513,418 1565,507 1590,580 C1615,653 1615,720 1610,800 C1605,880 1595,983 1560,1060 C1525,1137 1463,1210 1400,1260 C1337,1310 1255,1340 1180,1360 C1105,1380 1033,1385 950,1380 C867,1375 763,1365 680,1330 C597,1295 508,1228 450,1170 C392,1112 353,1042 330,980 C307,918 303,873 310,800Z" fill="none" stroke="#3c3c3c" stroke-width="50"/>
<path d="M590,300 C625,288 732,241 800,225 C868,209 925,202 1000,205 C1075,208 1180,219 1250,240 C1320,261 1378,297 1420,330 C1462,363 1487,422 1500,440" fill="none" stroke="#7a7a7a" stroke-width="38" stroke-linecap="round"/>
<path d="M310,760 C323,707 352,617 380,560 C408,503 440,452 480,420 C520,388 577,382 620,370 C663,358 710,335 740,350 C770,365 792,425 800,460 C808,495 807,530 790,560 C773,590 712,610 700,640 C688,670 695,713 720,740 C745,767 823,777 850,800 C877,823 892,863 880,880 C868,897 827,877 780,900 C733,923 655,985 600,1020 C545,1055 492,1113 450,1110 C408,1107 375,1038 350,1000 C325,962 307,920 300,880 C293,840 297,813 310,760Z" fill="#8c8c8c"/>
<path d="M430,1130 C457,1120 542,1165 600,1180 C658,1195 728,1200 780,1220 C832,1240 865,1298 910,1300 C955,1302 977,1247 1050,1230 C1123,1213 1275,1222 1350,1200 C1425,1178 1468,1100 1500,1100 C1532,1100 1557,1160 1540,1200 C1523,1240 1460,1305 1400,1340 C1340,1375 1255,1395 1180,1410 C1105,1425 1038,1435 950,1430 C862,1425 735,1412 650,1380 C565,1348 477,1282 440,1240 C403,1198 403,1140 430,1130Z" fill="#7c7c7c"/>
<path d="M1460,950 C1478,958 1512,1008 1510,1050 C1508,1092 1480,1170 1450,1200 C1420,1230 1358,1247 1330,1230 C1302,1213 1268,1138 1280,1100 C1292,1062 1370,1025 1400,1000 C1430,975 1442,942 1460,950Z" fill="#858585"/>
<ellipse cx="900" cy="500" rx="110" ry="100" fill="#7a7a7a"/>
<ellipse cx="1030" cy="420" rx="105" ry="100" fill="#7f7f7f"/>
<ellipse cx="1035" cy="405" rx="85" ry="80" fill="#060606"/>
<ellipse cx="830" cy="760" rx="70" ry="50" fill="#777777"/>
<ellipse cx="930" cy="960" rx="90" ry="70" fill="#6c6c6c"/>
</g>
<g filter="url(#cx5)">
<ellipse cx="1130" cy="820" rx="180" ry="150" fill="#4c4c4c"/>
<ellipse cx="1370" cy="720" rx="70" ry="90" fill="#6a6a6a"/>
<ellipse cx="1260" cy="410" rx="50" ry="40" fill="#8a8a8a"/>
</g>
<g filter="url(#cb5)">
<ellipse cx="908" cy="1095.0" rx="115.0" ry="75.0" fill="#e9e9e9" stroke="#f6f6f6" stroke-width="17.25"/>
<path d="M804,1140 C781,1145 766,1172 764,1190 C762,1208 778,1240 793,1245 C808,1250 837,1215 856,1220 C875,1225 891,1275 908,1275 C925,1275 941,1225 960,1220 C979,1215 1008,1250 1023,1245 C1038,1240 1054,1208 1052,1190 C1050,1172 1035,1145 1012,1140 C988,1135 942,1162 908,1162 C874,1162 828,1135 804,1140Z" fill="#f6f6f6"/>
<ellipse cx="908" cy="1190.0" rx="48.875" ry="39.1" fill="#6e6e6e"/>
<ellipse cx="400" cy="610" rx="13" ry="45" fill="#f0f0f0" transform="rotate(15 400 610)"/>
<ellipse cx="345" cy="900" rx="12" ry="45" fill="#f0f0f0" transform="rotate(-8 345 900)"/>
<ellipse cx="520" cy="1170" rx="50" ry="12" fill="#f0f0f0" transform="rotate(25 520 1170)"/>
<ellipse cx="1540" cy="560" rx="13" ry="60" fill="#f0f0f0" transform="rotate(-12 1540 560)"/>
<ellipse cx="1555" cy="830" rx="12" ry="40" fill="#f0f0f0"/>
<ellipse cx="1500" cy="1090" rx="12" ry="45" fill="#f0f0f0" transform="rotate(25 1500 1090)"/>
<ellipse cx="1270" cy="1290" rx="50" ry="12" fill="#f0f0f0" transform="rotate(-15 1270 1290)"/>
<ellipse cx="480" cy="440" rx="30" ry="10" fill="#f0f0f0" transform="rotate(-50 480 440)"/>
<path d="M320,1370 C367,1387 495,1447 600,1470 C705,1493 825,1508 950,1510 C1075,1512 1215,1503 1350,1480 C1485,1457 1692,1388 1760,1370" fill="none" stroke="#4a4a4a" stroke-width="7" stroke-linecap="round"/>
</g>
<path d="M1150,790 C1158,776 1175,767 1190,765 C1205,763 1228,770 1240,780 C1252,790 1263,810 1262,825 C1261,840 1249,860 1235,870 C1221,880 1195,885 1180,882 C1165,879 1150,865 1145,850 C1140,835 1142,804 1150,790Z" fill="#77777c" stroke="#dfe548" stroke-width="22"/>
</g>
<path d="M110,125 L332,125 L221.0,325 Z" fill="#4a80cb"/>
</g></g>
<g transform="translate(1098,1438) scale(0.11213)">
<g clip-path="url(#cc6)">
<g filter="url(#cn6)">
<rect x="88" y="80" width="1892" height="1575" fill="#050505"/>
<g filter="url(#cb6)">
<path d="M150,850 C150,752 162,647 200,560 C238,473 305,392 380,330 C455,268 547,223 650,190 C753,157 875,137 1000,130 C1125,123 1283,125 1400,150 C1517,175 1617,218 1700,280 C1783,342 1852,425 1900,520 C1948,615 1982,745 1990,850 C1998,955 1982,1058 1950,1150 C1918,1242 1875,1335 1800,1400 C1725,1465 1620,1510 1500,1540 C1380,1570 1213,1578 1080,1580 C947,1582 817,1577 700,1550 C583,1523 463,1487 380,1420 C297,1353 238,1245 200,1150 C162,1055 150,948 150,850Z" fill="none" stroke="#1e1e1e" stroke-width="44"/>
<path d="M110,850 C112,743 120,633 160,540 C200,447 270,355 350,290 C430,225 532,183 640,150 C748,117 870,97 1000,90 C1130,83 1297,83 1420,110 C1543,137 1652,185 1740,250 C1828,315 1900,400 1950,500 C2000,600 2032,737 2040,850 C2048,963 2033,1082 2000,1180 C1967,1278 1920,1372 1840,1440 C1760,1508 1647,1560 1520,1590 C1393,1620 1160,1620 1080,1620 C1000,1620 1053,1590 1040,1590 C1027,1590 1060,1619 1000,1620 C940,1621 790,1622 680,1595 C570,1568 428,1529 340,1460 C252,1391 188,1282 150,1180 C112,1078 108,957 110,850Z" fill="none" stroke="#4e4e4e" stroke-width="9"/>
<path d="M180,800 C187,727 197,632 230,560 C263,488 325,422 380,370 C435,318 490,283 560,250 C630,217 710,187 800,170 C890,153 1008,150 1100,150 C1192,150 1318,128 1350,170 C1382,212 1308,335 1290,400 C1272,465 1272,520 1240,560 C1208,600 1128,607 1100,640 C1072,673 1083,720 1070,760 C1057,800 1052,857 1020,880 C988,903 910,872 880,900 C850,928 853,1000 840,1050 C827,1100 832,1160 800,1200 C768,1240 708,1273 650,1290 C592,1307 512,1318 450,1300 C388,1282 323,1230 280,1180 C237,1130 207,1063 190,1000 C173,937 173,873 180,800Z" fill="#686868"/>
<path d="M1300,300 C1332,267 1397,223 1450,220 C1503,217 1565,233 1620,280 C1675,327 1738,422 1780,500 C1822,578 1863,680 1870,750 C1877,820 1857,870 1820,920 C1783,970 1712,1023 1650,1050 C1588,1077 1495,1097 1450,1080 C1405,1063 1393,1005 1380,950 C1367,895 1388,815 1370,750 C1352,685 1289,615 1270,560 C1251,505 1250,463 1255,420 C1260,377 1268,333 1300,300Z" fill="#d6d6d6"/>
<path d="M1880,880 C1902,886 1930,947 1930,1000 C1930,1053 1910,1143 1880,1200 C1850,1257 1805,1312 1750,1340 C1695,1368 1605,1380 1550,1370 C1495,1360 1445,1317 1420,1280 C1395,1243 1390,1181 1400,1150 C1410,1119 1438,1109 1480,1095 C1522,1081 1597,1087 1650,1065 C1703,1043 1762,996 1800,965 C1838,934 1858,874 1880,880Z" fill="#888888"/>
<path d="M700,1480 C717,1457 843,1397 900,1400 C957,1403 990,1500 1040,1500 C1090,1500 1123,1408 1200,1400 C1277,1392 1417,1443 1500,1450 C1583,1457 1700,1427 1700,1440 C1700,1453 1603,1510 1500,1530 C1397,1550 1197,1558 1080,1560 C963,1562 863,1553 800,1540 C737,1527 683,1503 700,1480Z" fill="#4e4e4e"/>
<ellipse cx="1050" cy="1124.4" rx="150.0" ry="126.0" fill="#e2e2e2" stroke="#f6f6f6" stroke-width="22.5"/>
<path d="M915,1200 C884,1208 865,1255 862,1284 C860,1313 880,1368 900,1376 C920,1385 958,1326 982,1334 C1008,1343 1028,1427 1050,1427 C1072,1427 1092,1343 1118,1334 C1142,1326 1180,1385 1200,1376 C1220,1368 1240,1313 1238,1284 C1235,1255 1216,1208 1185,1200 C1154,1192 1095,1238 1050,1238 C1005,1238 946,1192 915,1200Z" fill="#f6f6f6"/>
<ellipse cx="1050" cy="1284.0" rx="63.75000000000001" ry="51.00000000000001" fill="#3c3c3c"/>
<ellipse cx="1020" cy="1090" rx="55" ry="40" fill="#a8a8a8"/>
<ellipse cx="1130" cy="900" rx="68" ry="72" fill="#9a9a9a"/>
<ellipse cx="940" cy="800" rx="95" ry="90" fill="#747474"/>
<ellipse cx="850" cy="625" rx="42" ry="45" fill="#bdbdbd"/>
<ellipse cx="1190" cy="720" rx="30" ry="50" fill="#9a9a9a"/>
<path d="M860,300 C863,325 873,407 880,450 C887,493 880,532 900,560 C920,588 967,607 1000,620 C1033,633 1083,637 1100,640" fill="none" stroke="#151515" stroke-width="22" stroke-linecap="round"/>
<path d="M850,850 C855,858 858,893 880,900 C902,907 950,907 980,890 C1010,873 1047,815 1060,800" fill="none" stroke="#151515" stroke-width="20" stroke-linecap="round"/>
<ellipse cx="235" cy="640" rx="14" ry="60" fill="#3a3a3a" transform="rotate(18 235 640)" stroke="#f2f2f2" stroke-width="12.6"/>
<ellipse cx="185" cy="1040" rx="14" ry="70" fill="#f2f2f2" transform="rotate(-12 185 1040)"/>
<ellipse cx="830" cy="1350" rx="50" ry="16" fill="#3a3a3a" transform="rotate(-35 830 1350)" stroke="#f2f2f2" stroke-width="14.4"/>
<ellipse cx="1330" cy="1390" rx="60" ry="16" fill="#3a3a3a" transform="rotate(30 1330 1390)" stroke="#f2f2f2" stroke-width="14.4"/>
<ellipse cx="1925" cy="650" rx="16" ry="50" fill="#3a3a3a" transform="rotate(-25 1925 650)" stroke="#f2f2f2" stroke-width="14.4"/>
<ellipse cx="1965" cy="950" rx="14" ry="60" fill="#3a3a3a" transform="rotate(5 1965 950)" stroke="#f2f2f2" stroke-width="12.6"/>
<ellipse cx="1740" cy="1345" rx="80" ry="12" fill="#f2f2f2" transform="rotate(-28 1740 1345)"/>
<ellipse cx="430" cy="1435" rx="70" ry="12" fill="#f2f2f2" transform="rotate(22 430 1435)"/>
<ellipse cx="460" cy="300" rx="50" ry="20" fill="#f2f2f2" transform="rotate(-40 460 300)"/>
<ellipse cx="1750" cy="350" rx="20" ry="60" fill="#f2f2f2" transform="rotate(-30 1750 350)"/>
</g>
<g filter="url(#cs6)">
<path d="M530,1380 L640,1470 L480,1530 Z" fill="#e6de3a"/>
</g>
</g>
<path d="M115,160 L342,160 L228.5,375 Z" fill="#2f63ad"/>
</g></g>
<text x="1123.62" y="1470.34" font-size="16.8" text-anchor="middle" fill="#fff">1</text>
<g transform="translate(1350,1438) scale(0.11213)">
<g clip-path="url(#cc7)">
<g filter="url(#cn7)">
<rect x="92" y="80" width="1891" height="1575" fill="#050505"/>
<g filter="url(#cb7)">
<path d="M160,850 C160,755 170,663 210,580 C250,497 327,412 400,350 C473,288 550,243 650,210 C750,177 875,157 1000,150 C1125,143 1287,145 1400,170 C1513,195 1605,238 1680,300 C1755,362 1813,448 1850,540 C1887,632 1898,748 1900,850 C1902,952 1890,1062 1860,1150 C1830,1238 1788,1318 1720,1380 C1652,1442 1562,1490 1450,1520 C1338,1550 1175,1558 1050,1560 C925,1562 808,1557 700,1530 C592,1503 482,1463 400,1400 C318,1337 250,1242 210,1150 C170,1058 160,945 160,850Z" fill="none" stroke="#222222" stroke-width="44"/>
<path d="M120,850 C122,747 128,650 170,560 C212,470 292,375 370,310 C448,245 535,203 640,170 C745,137 870,117 1000,110 C1130,103 1300,103 1420,130 C1540,157 1640,205 1720,270 C1800,335 1862,423 1900,520 C1938,617 1948,742 1950,850 C1952,958 1942,1075 1910,1170 C1878,1265 1833,1353 1760,1420 C1687,1487 1588,1540 1470,1570 C1352,1600 1127,1600 1050,1600 C973,1600 1023,1570 1010,1570 C997,1570 1025,1599 970,1600 C915,1601 782,1602 680,1575 C578,1548 447,1506 360,1440 C273,1374 200,1278 160,1180 C120,1082 118,953 120,850Z" fill="none" stroke="#4e4e4e" stroke-width="9"/>
<path d="M200,800 C205,733 207,667 240,600 C273,533 340,453 400,400 C460,347 525,313 600,280 C675,247 767,218 850,200 C933,182 1033,170 1100,170 C1167,170 1242,165 1250,200 C1258,235 1172,320 1150,380 C1128,440 1138,517 1120,560 C1102,603 1060,607 1040,640 C1020,673 1010,720 1000,760 C990,800 1003,857 980,880 C957,903 885,872 860,900 C835,928 843,1003 830,1050 C817,1097 810,1143 780,1180 C750,1217 705,1252 650,1270 C595,1288 508,1307 450,1290 C392,1273 340,1218 300,1170 C260,1122 227,1062 210,1000 C193,938 195,867 200,800Z" fill="#7e7e7e"/>
<path d="M1180,280 C1215,252 1293,222 1350,230 C1407,238 1465,275 1520,330 C1575,385 1645,485 1680,560 C1715,635 1735,715 1730,780 C1725,845 1688,907 1650,950 C1612,993 1545,1028 1500,1040 C1455,1052 1410,1043 1380,1020 C1350,997 1338,953 1320,900 C1302,847 1297,757 1270,700 C1243,643 1182,610 1160,560 C1138,510 1137,447 1140,400 C1143,353 1145,308 1180,280Z" fill="#f3f3f3"/>
<path d="M1800,780 C1820,792 1843,880 1840,950 C1837,1020 1817,1135 1780,1200 C1743,1265 1675,1318 1620,1340 C1565,1362 1497,1353 1450,1330 C1403,1307 1358,1238 1340,1200 C1322,1162 1322,1123 1340,1100 C1358,1077 1407,1077 1450,1060 C1493,1043 1555,1030 1600,1000 C1645,970 1687,917 1720,880 C1753,843 1780,768 1800,780Z" fill="#8c8c8c"/>
<path d="M680,1460 C697,1438 843,1387 900,1390 C957,1393 973,1480 1020,1480 C1067,1480 1108,1397 1180,1390 C1252,1383 1372,1433 1450,1440 C1528,1447 1650,1418 1650,1430 C1650,1442 1550,1492 1450,1510 C1350,1528 1158,1538 1050,1540 C942,1542 862,1533 800,1520 C738,1507 663,1482 680,1460Z" fill="#5c5c5c"/>
<ellipse cx="1030" cy="1108.0" rx="150.0" ry="120.0" fill="#b8b8b8" stroke="#f4f4f4" stroke-width="22.5"/>
<path d="M895,1180 C864,1187 845,1232 842,1260 C840,1288 860,1340 880,1348 C900,1356 938,1300 962,1308 C988,1316 1008,1396 1030,1396 C1052,1396 1072,1316 1098,1308 C1122,1300 1160,1356 1180,1348 C1200,1340 1220,1288 1218,1260 C1215,1232 1196,1187 1165,1180 C1134,1173 1075,1216 1030,1216 C985,1216 926,1173 895,1180Z" fill="#f4f4f4"/>
<ellipse cx="1030" cy="1260.0" rx="63.75000000000001" ry="51.00000000000001" fill="#3c3c3c"/>
<ellipse cx="1100" cy="900" rx="66" ry="70" fill="#9a9a9a"/>
<ellipse cx="900" cy="810" rx="90" ry="90" fill="#858585"/>
<ellipse cx="805" cy="655" rx="32" ry="35" fill="#b8b8b8"/>
</g>
<g filter="url(#cx7)">
<ellipse cx="1460" cy="940" rx="55" ry="45" fill="#6a6a6a"/>
</g>
<g filter="url(#cb7)">
<path d="M800,400 C805,420 817,483 830,520 C843,557 855,598 880,620 C905,642 950,647 980,650 C1010,653 1047,642 1060,640" fill="none" stroke="#151515" stroke-width="22" stroke-linecap="round"/>
<path d="M830,880 C837,885 848,907 870,910 C892,913 932,915 960,900 C988,885 1027,833 1040,820" fill="none" stroke="#151515" stroke-width="20" stroke-linecap="round"/>
<ellipse cx="265" cy="640" rx="14" ry="60" fill="#3a3a3a" transform="rotate(22 265 640)" stroke="#f2f2f2" stroke-width="12.6"/>
<ellipse cx="205" cy="1040" rx="14" ry="80" fill="#f2f2f2" transform="rotate(-12 205 1040)"/>
<ellipse cx="790" cy="1350" rx="45" ry="16" fill="#3a3a3a" transform="rotate(-35 790 1350)" stroke="#f2f2f2" stroke-width="14.4"/>
<ellipse cx="1320" cy="1400" rx="60" ry="16" fill="#3a3a3a" transform="rotate(25 1320 1400)" stroke="#f2f2f2" stroke-width="14.4"/>
<ellipse cx="1815" cy="640" rx="16" ry="55" fill="#3a3a3a" transform="rotate(-22 1815 640)" stroke="#f2f2f2" stroke-width="14.4"/>
<ellipse cx="1860" cy="900" rx="14" ry="60" fill="#3a3a3a" transform="rotate(5 1860 900)" stroke="#f2f2f2" stroke-width="12.6"/>
<ellipse cx="1700" cy="1290" rx="70" ry="12" fill="#f2f2f2" transform="rotate(-32 1700 1290)"/>
<ellipse cx="440" cy="1410" rx="70" ry="12" fill="#f2f2f2" transform="rotate(22 440 1410)"/>
<ellipse cx="450" cy="370" rx="40" ry="16" fill="#f2f2f2" transform="rotate(-40 450 370)"/>
</g>
<g filter="url(#cs7)">
<path d="M545,1370 L660,1465 L510,1520 Z" fill="#e6de3a"/>
</g>
</g>
<path d="M115,195 L347,195 L231.0,410 Z" fill="#2f63ad"/>
</g></g>
<text x="1375.90" y="1474.26" font-size="16.8" text-anchor="middle" fill="#fff">2</text>
</svg>
</body>
</html>
